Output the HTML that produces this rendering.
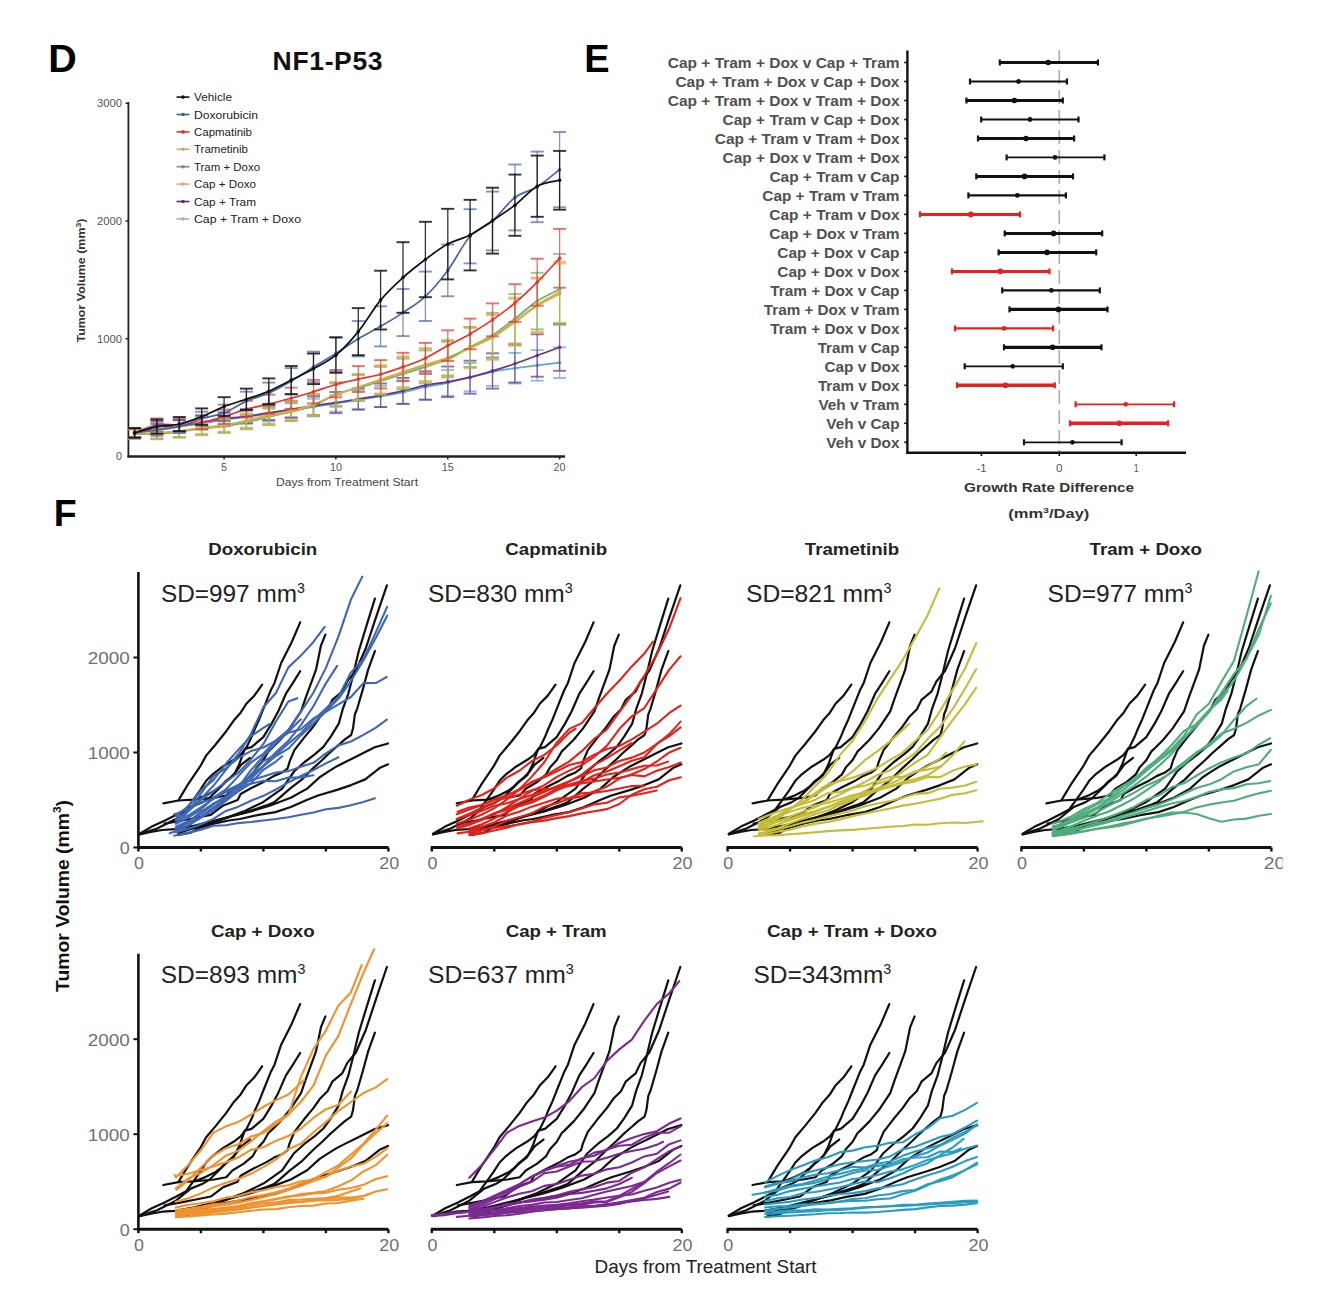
<!DOCTYPE html><html><head><meta charset="utf-8"><style>html,body{margin:0;padding:0;background:#fff;}svg{display:block;}text{font-family:"Liberation Sans", sans-serif;}</style></head><body>
<svg width="1322" height="1308" viewBox="0 0 1322 1308">
<rect width="1322" height="1308" fill="#fff"/>
<text x="48.3" y="72.4" font-size="39.5" font-weight="bold" fill="#000" text-anchor="start" >D</text>
<text x="272.6" y="69.6" font-size="26.5" font-weight="bold" fill="#111" textLength="110" lengthAdjust="spacing">NF1-P53</text>
<line x1="128.4" y1="102" x2="128.4" y2="457.5" stroke="#222" stroke-width="1.8" />
<line x1="127.5" y1="456.5" x2="565" y2="456.5" stroke="#222" stroke-width="2.4" />
<line x1="125.5" y1="338.7" x2="128.4" y2="338.7" stroke="#222" stroke-width="1.5" />
<line x1="125.5" y1="221" x2="128.4" y2="221" stroke="#222" stroke-width="1.5" />
<line x1="125.5" y1="103.3" x2="128.4" y2="103.3" stroke="#222" stroke-width="1.5" />
<line x1="224.1" y1="456.5" x2="224.1" y2="459.5" stroke="#222" stroke-width="1.5" />
<line x1="335.9" y1="456.5" x2="335.9" y2="459.5" stroke="#222" stroke-width="1.5" />
<line x1="447.8" y1="456.5" x2="447.8" y2="459.5" stroke="#222" stroke-width="1.5" />
<line x1="559.6" y1="456.5" x2="559.6" y2="459.5" stroke="#222" stroke-width="1.5" />
<text x="122" y="460.4" font-size="11" font-weight="normal" fill="#555" text-anchor="end" textLength="6" lengthAdjust="spacingAndGlyphs" >0</text>
<text x="122" y="342.7" font-size="11" font-weight="normal" fill="#555" text-anchor="end" textLength="25" lengthAdjust="spacingAndGlyphs" >1000</text>
<text x="122" y="225" font-size="11" font-weight="normal" fill="#555" text-anchor="end" textLength="25" lengthAdjust="spacingAndGlyphs" >2000</text>
<text x="122" y="107.3" font-size="11" font-weight="normal" fill="#555" text-anchor="end" textLength="25" lengthAdjust="spacingAndGlyphs" >3000</text>
<text x="224.1" y="470.5" font-size="11" font-weight="normal" fill="#555" text-anchor="middle" textLength="6" lengthAdjust="spacingAndGlyphs" >5</text>
<text x="335.9" y="470.5" font-size="11" font-weight="normal" fill="#555" text-anchor="middle" textLength="12" lengthAdjust="spacingAndGlyphs" >10</text>
<text x="447.8" y="470.5" font-size="11" font-weight="normal" fill="#555" text-anchor="middle" textLength="12" lengthAdjust="spacingAndGlyphs" >15</text>
<text x="559.6" y="470.5" font-size="11" font-weight="normal" fill="#555" text-anchor="middle" textLength="12" lengthAdjust="spacingAndGlyphs" >20</text>
<text x="347" y="486" font-size="11" font-weight="normal" fill="#444" text-anchor="middle" textLength="142" lengthAdjust="spacingAndGlyphs" >Days from Treatment Start</text>
<g transform="translate(84.5,280.5) rotate(-90)"><text x="0" y="0" font-size="10" font-weight="bold" fill="#333" text-anchor="middle" textLength="124" lengthAdjust="spacingAndGlyphs">Tumor Volume (mm<tspan font-size="7" dy="-4">3</tspan><tspan dy="4">)</tspan></text></g>
<line x1="134.6" y1="428.2" x2="134.6" y2="437.6" stroke="#5aa9cc" stroke-width="1.3" opacity="0.7"/>
<line x1="128.1" y1="428.2" x2="141.1" y2="428.2" stroke="#5aa9cc" stroke-width="1.9" opacity="0.7"/>
<line x1="128.1" y1="437.6" x2="141.1" y2="437.6" stroke="#5aa9cc" stroke-width="1.9" opacity="0.7"/>
<line x1="156.9" y1="422.9" x2="156.9" y2="433.4" stroke="#5aa9cc" stroke-width="1.3" opacity="0.7"/>
<line x1="150.4" y1="422.9" x2="163.4" y2="422.9" stroke="#5aa9cc" stroke-width="1.9" opacity="0.7"/>
<line x1="150.4" y1="433.4" x2="163.4" y2="433.4" stroke="#5aa9cc" stroke-width="1.9" opacity="0.7"/>
<line x1="179.3" y1="420.5" x2="179.3" y2="432.3" stroke="#5aa9cc" stroke-width="1.3" opacity="0.7"/>
<line x1="172.8" y1="420.5" x2="185.8" y2="420.5" stroke="#5aa9cc" stroke-width="1.9" opacity="0.7"/>
<line x1="172.8" y1="432.3" x2="185.8" y2="432.3" stroke="#5aa9cc" stroke-width="1.9" opacity="0.7"/>
<line x1="201.7" y1="417.6" x2="201.7" y2="429.3" stroke="#5aa9cc" stroke-width="1.3" opacity="0.7"/>
<line x1="195.2" y1="417.6" x2="208.2" y2="417.6" stroke="#5aa9cc" stroke-width="1.9" opacity="0.7"/>
<line x1="195.2" y1="429.3" x2="208.2" y2="429.3" stroke="#5aa9cc" stroke-width="1.9" opacity="0.7"/>
<line x1="224.1" y1="413.4" x2="224.1" y2="426.4" stroke="#5aa9cc" stroke-width="1.3" opacity="0.7"/>
<line x1="217.6" y1="413.4" x2="230.6" y2="413.4" stroke="#5aa9cc" stroke-width="1.9" opacity="0.7"/>
<line x1="217.6" y1="426.4" x2="230.6" y2="426.4" stroke="#5aa9cc" stroke-width="1.9" opacity="0.7"/>
<line x1="246.4" y1="410.5" x2="246.4" y2="423.4" stroke="#5aa9cc" stroke-width="1.3" opacity="0.7"/>
<line x1="239.9" y1="410.5" x2="252.9" y2="410.5" stroke="#5aa9cc" stroke-width="1.9" opacity="0.7"/>
<line x1="239.9" y1="423.4" x2="252.9" y2="423.4" stroke="#5aa9cc" stroke-width="1.9" opacity="0.7"/>
<line x1="268.8" y1="407" x2="268.8" y2="421.1" stroke="#5aa9cc" stroke-width="1.3" opacity="0.7"/>
<line x1="262.3" y1="407" x2="275.3" y2="407" stroke="#5aa9cc" stroke-width="1.9" opacity="0.7"/>
<line x1="262.3" y1="421.1" x2="275.3" y2="421.1" stroke="#5aa9cc" stroke-width="1.9" opacity="0.7"/>
<line x1="291.2" y1="403.4" x2="291.2" y2="417.6" stroke="#5aa9cc" stroke-width="1.3" opacity="0.7"/>
<line x1="284.7" y1="403.4" x2="297.7" y2="403.4" stroke="#5aa9cc" stroke-width="1.9" opacity="0.7"/>
<line x1="284.7" y1="417.6" x2="297.7" y2="417.6" stroke="#5aa9cc" stroke-width="1.9" opacity="0.7"/>
<line x1="313.5" y1="398.7" x2="313.5" y2="415.2" stroke="#5aa9cc" stroke-width="1.3" opacity="0.7"/>
<line x1="307" y1="398.7" x2="320" y2="398.7" stroke="#5aa9cc" stroke-width="1.9" opacity="0.7"/>
<line x1="307" y1="415.2" x2="320" y2="415.2" stroke="#5aa9cc" stroke-width="1.9" opacity="0.7"/>
<line x1="335.9" y1="395.2" x2="335.9" y2="411.7" stroke="#5aa9cc" stroke-width="1.3" opacity="0.7"/>
<line x1="329.4" y1="395.2" x2="342.4" y2="395.2" stroke="#5aa9cc" stroke-width="1.9" opacity="0.7"/>
<line x1="329.4" y1="411.7" x2="342.4" y2="411.7" stroke="#5aa9cc" stroke-width="1.9" opacity="0.7"/>
<line x1="358.3" y1="390.5" x2="358.3" y2="409.3" stroke="#5aa9cc" stroke-width="1.3" opacity="0.7"/>
<line x1="351.8" y1="390.5" x2="364.8" y2="390.5" stroke="#5aa9cc" stroke-width="1.9" opacity="0.7"/>
<line x1="351.8" y1="409.3" x2="364.8" y2="409.3" stroke="#5aa9cc" stroke-width="1.9" opacity="0.7"/>
<line x1="380.6" y1="385.8" x2="380.6" y2="407" stroke="#5aa9cc" stroke-width="1.3" opacity="0.7"/>
<line x1="374.1" y1="385.8" x2="387.1" y2="385.8" stroke="#5aa9cc" stroke-width="1.9" opacity="0.7"/>
<line x1="374.1" y1="407" x2="387.1" y2="407" stroke="#5aa9cc" stroke-width="1.9" opacity="0.7"/>
<line x1="403" y1="380.5" x2="403" y2="404" stroke="#5aa9cc" stroke-width="1.3" opacity="0.7"/>
<line x1="396.5" y1="380.5" x2="409.5" y2="380.5" stroke="#5aa9cc" stroke-width="1.9" opacity="0.7"/>
<line x1="396.5" y1="404" x2="409.5" y2="404" stroke="#5aa9cc" stroke-width="1.9" opacity="0.7"/>
<line x1="425.4" y1="374" x2="425.4" y2="399.9" stroke="#5aa9cc" stroke-width="1.3" opacity="0.7"/>
<line x1="418.9" y1="374" x2="431.9" y2="374" stroke="#5aa9cc" stroke-width="1.9" opacity="0.7"/>
<line x1="418.9" y1="399.9" x2="431.9" y2="399.9" stroke="#5aa9cc" stroke-width="1.9" opacity="0.7"/>
<line x1="447.8" y1="369.9" x2="447.8" y2="395.8" stroke="#5aa9cc" stroke-width="1.3" opacity="0.7"/>
<line x1="441.2" y1="369.9" x2="454.2" y2="369.9" stroke="#5aa9cc" stroke-width="1.9" opacity="0.7"/>
<line x1="441.2" y1="395.8" x2="454.2" y2="395.8" stroke="#5aa9cc" stroke-width="1.9" opacity="0.7"/>
<line x1="470.1" y1="363.1" x2="470.1" y2="391.3" stroke="#5aa9cc" stroke-width="1.3" opacity="0.7"/>
<line x1="463.6" y1="363.1" x2="476.6" y2="363.1" stroke="#5aa9cc" stroke-width="1.9" opacity="0.7"/>
<line x1="463.6" y1="391.3" x2="476.6" y2="391.3" stroke="#5aa9cc" stroke-width="1.9" opacity="0.7"/>
<line x1="492.5" y1="357.6" x2="492.5" y2="385.9" stroke="#5aa9cc" stroke-width="1.3" opacity="0.7"/>
<line x1="486" y1="357.6" x2="499" y2="357.6" stroke="#5aa9cc" stroke-width="1.9" opacity="0.7"/>
<line x1="486" y1="385.9" x2="499" y2="385.9" stroke="#5aa9cc" stroke-width="1.9" opacity="0.7"/>
<line x1="514.9" y1="352.9" x2="514.9" y2="383.5" stroke="#5aa9cc" stroke-width="1.3" opacity="0.7"/>
<line x1="508.4" y1="352.9" x2="521.4" y2="352.9" stroke="#5aa9cc" stroke-width="1.9" opacity="0.7"/>
<line x1="508.4" y1="383.5" x2="521.4" y2="383.5" stroke="#5aa9cc" stroke-width="1.9" opacity="0.7"/>
<line x1="537.2" y1="350.1" x2="537.2" y2="380.7" stroke="#5aa9cc" stroke-width="1.3" opacity="0.7"/>
<line x1="530.7" y1="350.1" x2="543.7" y2="350.1" stroke="#5aa9cc" stroke-width="1.9" opacity="0.7"/>
<line x1="530.7" y1="380.7" x2="543.7" y2="380.7" stroke="#5aa9cc" stroke-width="1.9" opacity="0.7"/>
<line x1="559.6" y1="347.4" x2="559.6" y2="378" stroke="#5aa9cc" stroke-width="1.3" opacity="0.7"/>
<line x1="553.1" y1="347.4" x2="566.1" y2="347.4" stroke="#5aa9cc" stroke-width="1.9" opacity="0.7"/>
<line x1="553.1" y1="378" x2="566.1" y2="378" stroke="#5aa9cc" stroke-width="1.9" opacity="0.7"/>
<path d="M134.6,432.9 C138.3,432.1 149.5,429.2 156.9,428.2 C164.4,427.1 171.9,427.2 179.3,426.4 C186.8,425.6 194.2,424.5 201.7,423.4 C209.1,422.4 216.6,421 224.1,419.9 C231.5,418.8 239,418 246.4,417 C253.9,416 261.3,415.1 268.8,414 C276.2,412.9 283.7,411.7 291.2,410.5 C298.6,409.3 306.1,408.1 313.5,407 C321,405.8 328.4,404.6 335.9,403.4 C343.4,402.3 350.8,401.1 358.3,399.9 C365.7,398.7 373.2,397.6 380.6,396.4 C388.1,395.1 395.6,393.8 403,392.3 C410.5,390.7 417.9,388.5 425.4,387 C432.8,385.4 440.3,384.5 447.8,382.8 C455.2,381.2 462.7,379 470.1,377.2 C477.6,375.3 485,373.3 492.5,371.8 C499.9,370.3 507.4,369.3 514.9,368.2 C522.3,367.2 529.8,366.3 537.2,365.4 C544.7,364.5 555.9,363.2 559.6,362.7" fill="none" stroke="#5aa9cc" stroke-width="1.7" stroke-linejoin="round" stroke-linecap="round" />
<circle cx="134.6" cy="432.9" r="1.8" fill="#5aa9cc"/>
<circle cx="156.9" cy="428.2" r="1.8" fill="#5aa9cc"/>
<circle cx="179.3" cy="426.4" r="1.8" fill="#5aa9cc"/>
<circle cx="201.7" cy="423.4" r="1.8" fill="#5aa9cc"/>
<circle cx="224.1" cy="419.9" r="1.8" fill="#5aa9cc"/>
<circle cx="246.4" cy="417" r="1.8" fill="#5aa9cc"/>
<circle cx="268.8" cy="414" r="1.8" fill="#5aa9cc"/>
<circle cx="291.2" cy="410.5" r="1.8" fill="#5aa9cc"/>
<circle cx="313.5" cy="407" r="1.8" fill="#5aa9cc"/>
<circle cx="335.9" cy="403.4" r="1.8" fill="#5aa9cc"/>
<circle cx="358.3" cy="399.9" r="1.8" fill="#5aa9cc"/>
<circle cx="380.6" cy="396.4" r="1.8" fill="#5aa9cc"/>
<circle cx="403" cy="392.3" r="1.8" fill="#5aa9cc"/>
<circle cx="425.4" cy="387" r="1.8" fill="#5aa9cc"/>
<circle cx="447.8" cy="382.8" r="1.8" fill="#5aa9cc"/>
<circle cx="470.1" cy="377.2" r="1.8" fill="#5aa9cc"/>
<circle cx="492.5" cy="371.8" r="1.8" fill="#5aa9cc"/>
<circle cx="514.9" cy="368.2" r="1.8" fill="#5aa9cc"/>
<circle cx="537.2" cy="365.4" r="1.8" fill="#5aa9cc"/>
<circle cx="559.6" cy="362.7" r="1.8" fill="#5aa9cc"/>
<line x1="134.6" y1="428.2" x2="134.6" y2="437.6" stroke="#6d2f8e" stroke-width="1.3" opacity="0.7"/>
<line x1="128.1" y1="428.2" x2="141.1" y2="428.2" stroke="#6d2f8e" stroke-width="1.9" opacity="0.7"/>
<line x1="128.1" y1="437.6" x2="141.1" y2="437.6" stroke="#6d2f8e" stroke-width="1.9" opacity="0.7"/>
<line x1="156.9" y1="421.1" x2="156.9" y2="432.9" stroke="#6d2f8e" stroke-width="1.3" opacity="0.7"/>
<line x1="150.4" y1="421.1" x2="163.4" y2="421.1" stroke="#6d2f8e" stroke-width="1.9" opacity="0.7"/>
<line x1="150.4" y1="432.9" x2="163.4" y2="432.9" stroke="#6d2f8e" stroke-width="1.9" opacity="0.7"/>
<line x1="179.3" y1="419.9" x2="179.3" y2="431.7" stroke="#6d2f8e" stroke-width="1.3" opacity="0.7"/>
<line x1="172.8" y1="419.9" x2="185.8" y2="419.9" stroke="#6d2f8e" stroke-width="1.9" opacity="0.7"/>
<line x1="172.8" y1="431.7" x2="185.8" y2="431.7" stroke="#6d2f8e" stroke-width="1.9" opacity="0.7"/>
<line x1="201.7" y1="415.8" x2="201.7" y2="428.7" stroke="#6d2f8e" stroke-width="1.3" opacity="0.7"/>
<line x1="195.2" y1="415.8" x2="208.2" y2="415.8" stroke="#6d2f8e" stroke-width="1.9" opacity="0.7"/>
<line x1="195.2" y1="428.7" x2="208.2" y2="428.7" stroke="#6d2f8e" stroke-width="1.9" opacity="0.7"/>
<line x1="224.1" y1="412.3" x2="224.1" y2="425.2" stroke="#6d2f8e" stroke-width="1.3" opacity="0.7"/>
<line x1="217.6" y1="412.3" x2="230.6" y2="412.3" stroke="#6d2f8e" stroke-width="1.9" opacity="0.7"/>
<line x1="217.6" y1="425.2" x2="230.6" y2="425.2" stroke="#6d2f8e" stroke-width="1.9" opacity="0.7"/>
<line x1="246.4" y1="409.3" x2="246.4" y2="423.4" stroke="#6d2f8e" stroke-width="1.3" opacity="0.7"/>
<line x1="239.9" y1="409.3" x2="252.9" y2="409.3" stroke="#6d2f8e" stroke-width="1.9" opacity="0.7"/>
<line x1="239.9" y1="423.4" x2="252.9" y2="423.4" stroke="#6d2f8e" stroke-width="1.9" opacity="0.7"/>
<line x1="268.8" y1="405.8" x2="268.8" y2="419.9" stroke="#6d2f8e" stroke-width="1.3" opacity="0.7"/>
<line x1="262.3" y1="405.8" x2="275.3" y2="405.8" stroke="#6d2f8e" stroke-width="1.9" opacity="0.7"/>
<line x1="262.3" y1="419.9" x2="275.3" y2="419.9" stroke="#6d2f8e" stroke-width="1.9" opacity="0.7"/>
<line x1="291.2" y1="401.1" x2="291.2" y2="417.6" stroke="#6d2f8e" stroke-width="1.3" opacity="0.7"/>
<line x1="284.7" y1="401.1" x2="297.7" y2="401.1" stroke="#6d2f8e" stroke-width="1.9" opacity="0.7"/>
<line x1="284.7" y1="417.6" x2="297.7" y2="417.6" stroke="#6d2f8e" stroke-width="1.9" opacity="0.7"/>
<line x1="313.5" y1="396.4" x2="313.5" y2="415.2" stroke="#6d2f8e" stroke-width="1.3" opacity="0.7"/>
<line x1="307" y1="396.4" x2="320" y2="396.4" stroke="#6d2f8e" stroke-width="1.9" opacity="0.7"/>
<line x1="307" y1="415.2" x2="320" y2="415.2" stroke="#6d2f8e" stroke-width="1.9" opacity="0.7"/>
<line x1="335.9" y1="392" x2="335.9" y2="413.2" stroke="#6d2f8e" stroke-width="1.3" opacity="0.7"/>
<line x1="329.4" y1="392" x2="342.4" y2="392" stroke="#6d2f8e" stroke-width="1.9" opacity="0.7"/>
<line x1="329.4" y1="413.2" x2="342.4" y2="413.2" stroke="#6d2f8e" stroke-width="1.9" opacity="0.7"/>
<line x1="358.3" y1="388.4" x2="358.3" y2="409.6" stroke="#6d2f8e" stroke-width="1.3" opacity="0.7"/>
<line x1="351.8" y1="388.4" x2="364.8" y2="388.4" stroke="#6d2f8e" stroke-width="1.9" opacity="0.7"/>
<line x1="351.8" y1="409.6" x2="364.8" y2="409.6" stroke="#6d2f8e" stroke-width="1.9" opacity="0.7"/>
<line x1="380.6" y1="383.5" x2="380.6" y2="407.1" stroke="#6d2f8e" stroke-width="1.3" opacity="0.7"/>
<line x1="374.1" y1="383.5" x2="387.1" y2="383.5" stroke="#6d2f8e" stroke-width="1.9" opacity="0.7"/>
<line x1="374.1" y1="407.1" x2="387.1" y2="407.1" stroke="#6d2f8e" stroke-width="1.9" opacity="0.7"/>
<line x1="403" y1="377.9" x2="403" y2="403.8" stroke="#6d2f8e" stroke-width="1.3" opacity="0.7"/>
<line x1="396.5" y1="377.9" x2="409.5" y2="377.9" stroke="#6d2f8e" stroke-width="1.9" opacity="0.7"/>
<line x1="396.5" y1="403.8" x2="409.5" y2="403.8" stroke="#6d2f8e" stroke-width="1.9" opacity="0.7"/>
<line x1="425.4" y1="371.3" x2="425.4" y2="399.6" stroke="#6d2f8e" stroke-width="1.3" opacity="0.7"/>
<line x1="418.9" y1="371.3" x2="431.9" y2="371.3" stroke="#6d2f8e" stroke-width="1.9" opacity="0.7"/>
<line x1="418.9" y1="399.6" x2="431.9" y2="399.6" stroke="#6d2f8e" stroke-width="1.9" opacity="0.7"/>
<line x1="447.8" y1="366.5" x2="447.8" y2="397.1" stroke="#6d2f8e" stroke-width="1.3" opacity="0.7"/>
<line x1="441.2" y1="366.5" x2="454.2" y2="366.5" stroke="#6d2f8e" stroke-width="1.9" opacity="0.7"/>
<line x1="441.2" y1="397.1" x2="454.2" y2="397.1" stroke="#6d2f8e" stroke-width="1.9" opacity="0.7"/>
<line x1="470.1" y1="360.7" x2="470.1" y2="393.7" stroke="#6d2f8e" stroke-width="1.3" opacity="0.7"/>
<line x1="463.6" y1="360.7" x2="476.6" y2="360.7" stroke="#6d2f8e" stroke-width="1.9" opacity="0.7"/>
<line x1="463.6" y1="393.7" x2="476.6" y2="393.7" stroke="#6d2f8e" stroke-width="1.9" opacity="0.7"/>
<line x1="492.5" y1="353.3" x2="492.5" y2="388.6" stroke="#6d2f8e" stroke-width="1.3" opacity="0.7"/>
<line x1="486" y1="353.3" x2="499" y2="353.3" stroke="#6d2f8e" stroke-width="1.9" opacity="0.7"/>
<line x1="486" y1="388.6" x2="499" y2="388.6" stroke="#6d2f8e" stroke-width="1.9" opacity="0.7"/>
<line x1="514.9" y1="344.8" x2="514.9" y2="382.5" stroke="#6d2f8e" stroke-width="1.3" opacity="0.7"/>
<line x1="508.4" y1="344.8" x2="521.4" y2="344.8" stroke="#6d2f8e" stroke-width="1.9" opacity="0.7"/>
<line x1="508.4" y1="382.5" x2="521.4" y2="382.5" stroke="#6d2f8e" stroke-width="1.9" opacity="0.7"/>
<line x1="537.2" y1="334.3" x2="537.2" y2="376.7" stroke="#6d2f8e" stroke-width="1.3" opacity="0.7"/>
<line x1="530.7" y1="334.3" x2="543.7" y2="334.3" stroke="#6d2f8e" stroke-width="1.9" opacity="0.7"/>
<line x1="530.7" y1="376.7" x2="543.7" y2="376.7" stroke="#6d2f8e" stroke-width="1.9" opacity="0.7"/>
<line x1="559.6" y1="323.8" x2="559.6" y2="370.8" stroke="#6d2f8e" stroke-width="1.3" opacity="0.7"/>
<line x1="553.1" y1="323.8" x2="566.1" y2="323.8" stroke="#6d2f8e" stroke-width="1.9" opacity="0.7"/>
<line x1="553.1" y1="370.8" x2="566.1" y2="370.8" stroke="#6d2f8e" stroke-width="1.9" opacity="0.7"/>
<path d="M134.6,432.9 C138.3,431.9 149.5,428.2 156.9,427 C164.4,425.8 171.9,426.6 179.3,425.8 C186.8,425 194.2,423.4 201.7,422.3 C209.1,421.1 216.6,419.7 224.1,418.7 C231.5,417.8 239,417.4 246.4,416.4 C253.9,415.4 261.3,414 268.8,412.9 C276.2,411.7 283.7,410.5 291.2,409.3 C298.6,408.1 306.1,406.9 313.5,405.8 C321,404.7 328.4,403.7 335.9,402.6 C343.4,401.5 350.8,400.2 358.3,399 C365.7,397.7 373.2,396.7 380.6,395.3 C388.1,394 395.6,392.5 403,390.8 C410.5,389.2 417.9,386.9 425.4,385.4 C432.8,383.9 440.3,383.2 447.8,381.8 C455.2,380.4 462.7,379 470.1,377.2 C477.6,375.4 485,373.2 492.5,370.9 C499.9,368.7 507.4,366.2 514.9,363.7 C522.3,361.1 529.8,358.3 537.2,355.5 C544.7,352.8 555.9,348.7 559.6,347.3" fill="none" stroke="#6d2f8e" stroke-width="1.7" stroke-linejoin="round" stroke-linecap="round" />
<circle cx="134.6" cy="432.9" r="1.8" fill="#6d2f8e"/>
<circle cx="156.9" cy="427" r="1.8" fill="#6d2f8e"/>
<circle cx="179.3" cy="425.8" r="1.8" fill="#6d2f8e"/>
<circle cx="201.7" cy="422.3" r="1.8" fill="#6d2f8e"/>
<circle cx="224.1" cy="418.7" r="1.8" fill="#6d2f8e"/>
<circle cx="246.4" cy="416.4" r="1.8" fill="#6d2f8e"/>
<circle cx="268.8" cy="412.9" r="1.8" fill="#6d2f8e"/>
<circle cx="291.2" cy="409.3" r="1.8" fill="#6d2f8e"/>
<circle cx="313.5" cy="405.8" r="1.8" fill="#6d2f8e"/>
<circle cx="335.9" cy="402.6" r="1.8" fill="#6d2f8e"/>
<circle cx="358.3" cy="399" r="1.8" fill="#6d2f8e"/>
<circle cx="380.6" cy="395.3" r="1.8" fill="#6d2f8e"/>
<circle cx="403" cy="390.8" r="1.8" fill="#6d2f8e"/>
<circle cx="425.4" cy="385.4" r="1.8" fill="#6d2f8e"/>
<circle cx="447.8" cy="381.8" r="1.8" fill="#6d2f8e"/>
<circle cx="470.1" cy="377.2" r="1.8" fill="#6d2f8e"/>
<circle cx="492.5" cy="370.9" r="1.8" fill="#6d2f8e"/>
<circle cx="514.9" cy="363.7" r="1.8" fill="#6d2f8e"/>
<circle cx="537.2" cy="355.5" r="1.8" fill="#6d2f8e"/>
<circle cx="559.6" cy="347.3" r="1.8" fill="#6d2f8e"/>
<line x1="134.6" y1="429.3" x2="134.6" y2="438.7" stroke="#f0a050" stroke-width="1.3" opacity="0.7"/>
<line x1="128.1" y1="429.3" x2="141.1" y2="429.3" stroke="#f0a050" stroke-width="1.9" opacity="0.7"/>
<line x1="128.1" y1="438.7" x2="141.1" y2="438.7" stroke="#f0a050" stroke-width="1.9" opacity="0.7"/>
<line x1="156.9" y1="427.6" x2="156.9" y2="438.2" stroke="#f0a050" stroke-width="1.3" opacity="0.7"/>
<line x1="150.4" y1="427.6" x2="163.4" y2="427.6" stroke="#f0a050" stroke-width="1.9" opacity="0.7"/>
<line x1="150.4" y1="438.2" x2="163.4" y2="438.2" stroke="#f0a050" stroke-width="1.9" opacity="0.7"/>
<line x1="179.3" y1="425.2" x2="179.3" y2="437" stroke="#f0a050" stroke-width="1.3" opacity="0.7"/>
<line x1="172.8" y1="425.2" x2="185.8" y2="425.2" stroke="#f0a050" stroke-width="1.9" opacity="0.7"/>
<line x1="172.8" y1="437" x2="185.8" y2="437" stroke="#f0a050" stroke-width="1.9" opacity="0.7"/>
<line x1="201.7" y1="421.1" x2="201.7" y2="434" stroke="#f0a050" stroke-width="1.3" opacity="0.7"/>
<line x1="195.2" y1="421.1" x2="208.2" y2="421.1" stroke="#f0a050" stroke-width="1.9" opacity="0.7"/>
<line x1="195.2" y1="434" x2="208.2" y2="434" stroke="#f0a050" stroke-width="1.9" opacity="0.7"/>
<line x1="224.1" y1="418.7" x2="224.1" y2="431.7" stroke="#f0a050" stroke-width="1.3" opacity="0.7"/>
<line x1="217.6" y1="418.7" x2="230.6" y2="418.7" stroke="#f0a050" stroke-width="1.9" opacity="0.7"/>
<line x1="217.6" y1="431.7" x2="230.6" y2="431.7" stroke="#f0a050" stroke-width="1.9" opacity="0.7"/>
<line x1="246.4" y1="413.4" x2="246.4" y2="427.6" stroke="#f0a050" stroke-width="1.3" opacity="0.7"/>
<line x1="239.9" y1="413.4" x2="252.9" y2="413.4" stroke="#f0a050" stroke-width="1.9" opacity="0.7"/>
<line x1="239.9" y1="427.6" x2="252.9" y2="427.6" stroke="#f0a050" stroke-width="1.9" opacity="0.7"/>
<line x1="268.8" y1="407" x2="268.8" y2="423.4" stroke="#f0a050" stroke-width="1.3" opacity="0.7"/>
<line x1="262.3" y1="407" x2="275.3" y2="407" stroke="#f0a050" stroke-width="1.9" opacity="0.7"/>
<line x1="262.3" y1="423.4" x2="275.3" y2="423.4" stroke="#f0a050" stroke-width="1.9" opacity="0.7"/>
<line x1="291.2" y1="401.1" x2="291.2" y2="419.9" stroke="#f0a050" stroke-width="1.3" opacity="0.7"/>
<line x1="284.7" y1="401.1" x2="297.7" y2="401.1" stroke="#f0a050" stroke-width="1.9" opacity="0.7"/>
<line x1="284.7" y1="419.9" x2="297.7" y2="419.9" stroke="#f0a050" stroke-width="1.9" opacity="0.7"/>
<line x1="313.5" y1="394" x2="313.5" y2="415.2" stroke="#f0a050" stroke-width="1.3" opacity="0.7"/>
<line x1="307" y1="394" x2="320" y2="394" stroke="#f0a050" stroke-width="1.9" opacity="0.7"/>
<line x1="307" y1="415.2" x2="320" y2="415.2" stroke="#f0a050" stroke-width="1.9" opacity="0.7"/>
<line x1="335.9" y1="383.4" x2="335.9" y2="407" stroke="#f0a050" stroke-width="1.3" opacity="0.7"/>
<line x1="329.4" y1="383.4" x2="342.4" y2="383.4" stroke="#f0a050" stroke-width="1.9" opacity="0.7"/>
<line x1="329.4" y1="407" x2="342.4" y2="407" stroke="#f0a050" stroke-width="1.9" opacity="0.7"/>
<line x1="358.3" y1="374" x2="358.3" y2="399.9" stroke="#f0a050" stroke-width="1.3" opacity="0.7"/>
<line x1="351.8" y1="374" x2="364.8" y2="374" stroke="#f0a050" stroke-width="1.9" opacity="0.7"/>
<line x1="351.8" y1="399.9" x2="364.8" y2="399.9" stroke="#f0a050" stroke-width="1.9" opacity="0.7"/>
<line x1="380.6" y1="365.2" x2="380.6" y2="393.4" stroke="#f0a050" stroke-width="1.3" opacity="0.7"/>
<line x1="374.1" y1="365.2" x2="387.1" y2="365.2" stroke="#f0a050" stroke-width="1.9" opacity="0.7"/>
<line x1="374.1" y1="393.4" x2="387.1" y2="393.4" stroke="#f0a050" stroke-width="1.9" opacity="0.7"/>
<line x1="403" y1="356.4" x2="403" y2="387" stroke="#f0a050" stroke-width="1.3" opacity="0.7"/>
<line x1="396.5" y1="356.4" x2="409.5" y2="356.4" stroke="#f0a050" stroke-width="1.9" opacity="0.7"/>
<line x1="396.5" y1="387" x2="409.5" y2="387" stroke="#f0a050" stroke-width="1.9" opacity="0.7"/>
<line x1="425.4" y1="348.1" x2="425.4" y2="381.1" stroke="#f0a050" stroke-width="1.3" opacity="0.7"/>
<line x1="418.9" y1="348.1" x2="431.9" y2="348.1" stroke="#f0a050" stroke-width="1.9" opacity="0.7"/>
<line x1="418.9" y1="381.1" x2="431.9" y2="381.1" stroke="#f0a050" stroke-width="1.9" opacity="0.7"/>
<line x1="447.8" y1="339.9" x2="447.8" y2="375.2" stroke="#f0a050" stroke-width="1.3" opacity="0.7"/>
<line x1="441.2" y1="339.9" x2="454.2" y2="339.9" stroke="#f0a050" stroke-width="1.9" opacity="0.7"/>
<line x1="441.2" y1="375.2" x2="454.2" y2="375.2" stroke="#f0a050" stroke-width="1.9" opacity="0.7"/>
<line x1="470.1" y1="328.1" x2="470.1" y2="368.1" stroke="#f0a050" stroke-width="1.3" opacity="0.7"/>
<line x1="463.6" y1="328.1" x2="476.6" y2="328.1" stroke="#f0a050" stroke-width="1.9" opacity="0.7"/>
<line x1="463.6" y1="368.1" x2="476.6" y2="368.1" stroke="#f0a050" stroke-width="1.9" opacity="0.7"/>
<line x1="492.5" y1="315.2" x2="492.5" y2="359.9" stroke="#f0a050" stroke-width="1.3" opacity="0.7"/>
<line x1="486" y1="315.2" x2="499" y2="315.2" stroke="#f0a050" stroke-width="1.9" opacity="0.7"/>
<line x1="486" y1="359.9" x2="499" y2="359.9" stroke="#f0a050" stroke-width="1.9" opacity="0.7"/>
<line x1="514.9" y1="298.7" x2="514.9" y2="345.8" stroke="#f0a050" stroke-width="1.3" opacity="0.7"/>
<line x1="508.4" y1="298.7" x2="521.4" y2="298.7" stroke="#f0a050" stroke-width="1.9" opacity="0.7"/>
<line x1="508.4" y1="345.8" x2="521.4" y2="345.8" stroke="#f0a050" stroke-width="1.9" opacity="0.7"/>
<line x1="537.2" y1="278.7" x2="537.2" y2="332.8" stroke="#f0a050" stroke-width="1.3" opacity="0.7"/>
<line x1="530.7" y1="278.7" x2="543.7" y2="278.7" stroke="#f0a050" stroke-width="1.9" opacity="0.7"/>
<line x1="530.7" y1="332.8" x2="543.7" y2="332.8" stroke="#f0a050" stroke-width="1.9" opacity="0.7"/>
<line x1="559.6" y1="263.4" x2="559.6" y2="324.6" stroke="#f0a050" stroke-width="1.3" opacity="0.7"/>
<line x1="553.1" y1="263.4" x2="566.1" y2="263.4" stroke="#f0a050" stroke-width="1.9" opacity="0.7"/>
<line x1="553.1" y1="324.6" x2="566.1" y2="324.6" stroke="#f0a050" stroke-width="1.9" opacity="0.7"/>
<path d="M134.6,434 C138.3,433.8 149.5,433.4 156.9,432.9 C164.4,432.4 171.9,432 179.3,431.1 C186.8,430.2 194.2,428.5 201.7,427.6 C209.1,426.6 216.6,426.4 224.1,425.2 C231.5,424 239,422.2 246.4,420.5 C253.9,418.8 261.3,416.9 268.8,415.2 C276.2,413.5 283.7,412.3 291.2,410.5 C298.6,408.7 306.1,407.2 313.5,404.6 C321,402.1 328.4,398.1 335.9,395.2 C343.4,392.3 350.8,389.6 358.3,387 C365.7,384.3 373.2,381.9 380.6,379.3 C388.1,376.8 395.6,374.1 403,371.7 C410.5,369.2 417.9,366.9 425.4,364.6 C432.8,362.2 440.3,360.3 447.8,357.5 C455.2,354.8 462.7,351.5 470.1,348.1 C477.6,344.8 485,341.8 492.5,337.5 C499.9,333.2 507.4,327.5 514.9,322.2 C522.3,316.9 529.8,310.5 537.2,305.7 C544.7,301 555.9,295.9 559.6,294" fill="none" stroke="#f0a050" stroke-width="1.7" stroke-linejoin="round" stroke-linecap="round" />
<circle cx="134.6" cy="434" r="1.8" fill="#f0a050"/>
<circle cx="156.9" cy="432.9" r="1.8" fill="#f0a050"/>
<circle cx="179.3" cy="431.1" r="1.8" fill="#f0a050"/>
<circle cx="201.7" cy="427.6" r="1.8" fill="#f0a050"/>
<circle cx="224.1" cy="425.2" r="1.8" fill="#f0a050"/>
<circle cx="246.4" cy="420.5" r="1.8" fill="#f0a050"/>
<circle cx="268.8" cy="415.2" r="1.8" fill="#f0a050"/>
<circle cx="291.2" cy="410.5" r="1.8" fill="#f0a050"/>
<circle cx="313.5" cy="404.6" r="1.8" fill="#f0a050"/>
<circle cx="335.9" cy="395.2" r="1.8" fill="#f0a050"/>
<circle cx="358.3" cy="387" r="1.8" fill="#f0a050"/>
<circle cx="380.6" cy="379.3" r="1.8" fill="#f0a050"/>
<circle cx="403" cy="371.7" r="1.8" fill="#f0a050"/>
<circle cx="425.4" cy="364.6" r="1.8" fill="#f0a050"/>
<circle cx="447.8" cy="357.5" r="1.8" fill="#f0a050"/>
<circle cx="470.1" cy="348.1" r="1.8" fill="#f0a050"/>
<circle cx="492.5" cy="337.5" r="1.8" fill="#f0a050"/>
<circle cx="514.9" cy="322.2" r="1.8" fill="#f0a050"/>
<circle cx="537.2" cy="305.7" r="1.8" fill="#f0a050"/>
<circle cx="559.6" cy="294" r="1.8" fill="#f0a050"/>
<line x1="134.6" y1="429.3" x2="134.6" y2="438.7" stroke="#63b07a" stroke-width="1.3" opacity="0.7"/>
<line x1="128.1" y1="429.3" x2="141.1" y2="429.3" stroke="#63b07a" stroke-width="1.9" opacity="0.7"/>
<line x1="128.1" y1="438.7" x2="141.1" y2="438.7" stroke="#63b07a" stroke-width="1.9" opacity="0.7"/>
<line x1="156.9" y1="428.7" x2="156.9" y2="439.3" stroke="#63b07a" stroke-width="1.3" opacity="0.7"/>
<line x1="150.4" y1="428.7" x2="163.4" y2="428.7" stroke="#63b07a" stroke-width="1.9" opacity="0.7"/>
<line x1="150.4" y1="439.3" x2="163.4" y2="439.3" stroke="#63b07a" stroke-width="1.9" opacity="0.7"/>
<line x1="179.3" y1="425.8" x2="179.3" y2="437.6" stroke="#63b07a" stroke-width="1.3" opacity="0.7"/>
<line x1="172.8" y1="425.8" x2="185.8" y2="425.8" stroke="#63b07a" stroke-width="1.9" opacity="0.7"/>
<line x1="172.8" y1="437.6" x2="185.8" y2="437.6" stroke="#63b07a" stroke-width="1.9" opacity="0.7"/>
<line x1="201.7" y1="422.3" x2="201.7" y2="435.2" stroke="#63b07a" stroke-width="1.3" opacity="0.7"/>
<line x1="195.2" y1="422.3" x2="208.2" y2="422.3" stroke="#63b07a" stroke-width="1.9" opacity="0.7"/>
<line x1="195.2" y1="435.2" x2="208.2" y2="435.2" stroke="#63b07a" stroke-width="1.9" opacity="0.7"/>
<line x1="224.1" y1="419.9" x2="224.1" y2="432.9" stroke="#63b07a" stroke-width="1.3" opacity="0.7"/>
<line x1="217.6" y1="419.9" x2="230.6" y2="419.9" stroke="#63b07a" stroke-width="1.9" opacity="0.7"/>
<line x1="217.6" y1="432.9" x2="230.6" y2="432.9" stroke="#63b07a" stroke-width="1.9" opacity="0.7"/>
<line x1="246.4" y1="415.2" x2="246.4" y2="429.3" stroke="#63b07a" stroke-width="1.3" opacity="0.7"/>
<line x1="239.9" y1="415.2" x2="252.9" y2="415.2" stroke="#63b07a" stroke-width="1.9" opacity="0.7"/>
<line x1="239.9" y1="429.3" x2="252.9" y2="429.3" stroke="#63b07a" stroke-width="1.9" opacity="0.7"/>
<line x1="268.8" y1="408.7" x2="268.8" y2="425.2" stroke="#63b07a" stroke-width="1.3" opacity="0.7"/>
<line x1="262.3" y1="408.7" x2="275.3" y2="408.7" stroke="#63b07a" stroke-width="1.9" opacity="0.7"/>
<line x1="262.3" y1="425.2" x2="275.3" y2="425.2" stroke="#63b07a" stroke-width="1.9" opacity="0.7"/>
<line x1="291.2" y1="402.3" x2="291.2" y2="421.1" stroke="#63b07a" stroke-width="1.3" opacity="0.7"/>
<line x1="284.7" y1="402.3" x2="297.7" y2="402.3" stroke="#63b07a" stroke-width="1.9" opacity="0.7"/>
<line x1="284.7" y1="421.1" x2="297.7" y2="421.1" stroke="#63b07a" stroke-width="1.9" opacity="0.7"/>
<line x1="313.5" y1="395.2" x2="313.5" y2="416.4" stroke="#63b07a" stroke-width="1.3" opacity="0.7"/>
<line x1="307" y1="395.2" x2="320" y2="395.2" stroke="#63b07a" stroke-width="1.9" opacity="0.7"/>
<line x1="307" y1="416.4" x2="320" y2="416.4" stroke="#63b07a" stroke-width="1.9" opacity="0.7"/>
<line x1="335.9" y1="382.2" x2="335.9" y2="405.8" stroke="#63b07a" stroke-width="1.3" opacity="0.7"/>
<line x1="329.4" y1="382.2" x2="342.4" y2="382.2" stroke="#63b07a" stroke-width="1.9" opacity="0.7"/>
<line x1="329.4" y1="405.8" x2="342.4" y2="405.8" stroke="#63b07a" stroke-width="1.9" opacity="0.7"/>
<line x1="358.3" y1="375.2" x2="358.3" y2="401.1" stroke="#63b07a" stroke-width="1.3" opacity="0.7"/>
<line x1="351.8" y1="375.2" x2="364.8" y2="375.2" stroke="#63b07a" stroke-width="1.9" opacity="0.7"/>
<line x1="351.8" y1="401.1" x2="364.8" y2="401.1" stroke="#63b07a" stroke-width="1.9" opacity="0.7"/>
<line x1="380.6" y1="366.9" x2="380.6" y2="395.2" stroke="#63b07a" stroke-width="1.3" opacity="0.7"/>
<line x1="374.1" y1="366.9" x2="387.1" y2="366.9" stroke="#63b07a" stroke-width="1.9" opacity="0.7"/>
<line x1="374.1" y1="395.2" x2="387.1" y2="395.2" stroke="#63b07a" stroke-width="1.9" opacity="0.7"/>
<line x1="403" y1="358.7" x2="403" y2="389.3" stroke="#63b07a" stroke-width="1.3" opacity="0.7"/>
<line x1="396.5" y1="358.7" x2="409.5" y2="358.7" stroke="#63b07a" stroke-width="1.9" opacity="0.7"/>
<line x1="396.5" y1="389.3" x2="409.5" y2="389.3" stroke="#63b07a" stroke-width="1.9" opacity="0.7"/>
<line x1="425.4" y1="350.5" x2="425.4" y2="383.4" stroke="#63b07a" stroke-width="1.3" opacity="0.7"/>
<line x1="418.9" y1="350.5" x2="431.9" y2="350.5" stroke="#63b07a" stroke-width="1.9" opacity="0.7"/>
<line x1="418.9" y1="383.4" x2="431.9" y2="383.4" stroke="#63b07a" stroke-width="1.9" opacity="0.7"/>
<line x1="447.8" y1="341.1" x2="447.8" y2="376.4" stroke="#63b07a" stroke-width="1.3" opacity="0.7"/>
<line x1="441.2" y1="341.1" x2="454.2" y2="341.1" stroke="#63b07a" stroke-width="1.9" opacity="0.7"/>
<line x1="441.2" y1="376.4" x2="454.2" y2="376.4" stroke="#63b07a" stroke-width="1.9" opacity="0.7"/>
<line x1="470.1" y1="326.9" x2="470.1" y2="366.9" stroke="#63b07a" stroke-width="1.3" opacity="0.7"/>
<line x1="463.6" y1="326.9" x2="476.6" y2="326.9" stroke="#63b07a" stroke-width="1.9" opacity="0.7"/>
<line x1="463.6" y1="366.9" x2="476.6" y2="366.9" stroke="#63b07a" stroke-width="1.9" opacity="0.7"/>
<line x1="492.5" y1="312.8" x2="492.5" y2="357.5" stroke="#63b07a" stroke-width="1.3" opacity="0.7"/>
<line x1="486" y1="312.8" x2="499" y2="312.8" stroke="#63b07a" stroke-width="1.9" opacity="0.7"/>
<line x1="486" y1="357.5" x2="499" y2="357.5" stroke="#63b07a" stroke-width="1.9" opacity="0.7"/>
<line x1="514.9" y1="294" x2="514.9" y2="343.4" stroke="#63b07a" stroke-width="1.3" opacity="0.7"/>
<line x1="508.4" y1="294" x2="521.4" y2="294" stroke="#63b07a" stroke-width="1.9" opacity="0.7"/>
<line x1="508.4" y1="343.4" x2="521.4" y2="343.4" stroke="#63b07a" stroke-width="1.9" opacity="0.7"/>
<line x1="537.2" y1="272.8" x2="537.2" y2="329.3" stroke="#63b07a" stroke-width="1.3" opacity="0.7"/>
<line x1="530.7" y1="272.8" x2="543.7" y2="272.8" stroke="#63b07a" stroke-width="1.9" opacity="0.7"/>
<line x1="530.7" y1="329.3" x2="543.7" y2="329.3" stroke="#63b07a" stroke-width="1.9" opacity="0.7"/>
<line x1="559.6" y1="254" x2="559.6" y2="324.6" stroke="#63b07a" stroke-width="1.3" opacity="0.7"/>
<line x1="553.1" y1="254" x2="566.1" y2="254" stroke="#63b07a" stroke-width="1.9" opacity="0.7"/>
<line x1="553.1" y1="324.6" x2="566.1" y2="324.6" stroke="#63b07a" stroke-width="1.9" opacity="0.7"/>
<path d="M134.6,434 C138.3,434 149.5,434.4 156.9,434 C164.4,433.6 171.9,432.6 179.3,431.7 C186.8,430.8 194.2,429.6 201.7,428.7 C209.1,427.9 216.6,427.5 224.1,426.4 C231.5,425.3 239,423.8 246.4,422.3 C253.9,420.7 261.3,418.7 268.8,417 C276.2,415.2 283.7,413.5 291.2,411.7 C298.6,409.8 306.1,408.7 313.5,405.8 C321,402.8 328.4,397 335.9,394 C343.4,391.1 350.8,390.3 358.3,388.1 C365.7,386 373.2,383.4 380.6,381.1 C388.1,378.7 395.6,376.4 403,374 C410.5,371.7 417.9,369.5 425.4,366.9 C432.8,364.4 440.3,362 447.8,358.7 C455.2,355.4 462.7,350.9 470.1,346.9 C477.6,343 485,339.9 492.5,335.2 C499.9,330.5 507.4,324.4 514.9,318.7 C522.3,313 529.8,305.9 537.2,301 C544.7,296.1 555.9,291.2 559.6,289.3" fill="none" stroke="#63b07a" stroke-width="1.7" stroke-linejoin="round" stroke-linecap="round" />
<circle cx="134.6" cy="434" r="1.8" fill="#63b07a"/>
<circle cx="156.9" cy="434" r="1.8" fill="#63b07a"/>
<circle cx="179.3" cy="431.7" r="1.8" fill="#63b07a"/>
<circle cx="201.7" cy="428.7" r="1.8" fill="#63b07a"/>
<circle cx="224.1" cy="426.4" r="1.8" fill="#63b07a"/>
<circle cx="246.4" cy="422.3" r="1.8" fill="#63b07a"/>
<circle cx="268.8" cy="417" r="1.8" fill="#63b07a"/>
<circle cx="291.2" cy="411.7" r="1.8" fill="#63b07a"/>
<circle cx="313.5" cy="405.8" r="1.8" fill="#63b07a"/>
<circle cx="335.9" cy="394" r="1.8" fill="#63b07a"/>
<circle cx="358.3" cy="388.1" r="1.8" fill="#63b07a"/>
<circle cx="380.6" cy="381.1" r="1.8" fill="#63b07a"/>
<circle cx="403" cy="374" r="1.8" fill="#63b07a"/>
<circle cx="425.4" cy="366.9" r="1.8" fill="#63b07a"/>
<circle cx="447.8" cy="358.7" r="1.8" fill="#63b07a"/>
<circle cx="470.1" cy="346.9" r="1.8" fill="#63b07a"/>
<circle cx="492.5" cy="335.2" r="1.8" fill="#63b07a"/>
<circle cx="514.9" cy="318.7" r="1.8" fill="#63b07a"/>
<circle cx="537.2" cy="301" r="1.8" fill="#63b07a"/>
<circle cx="559.6" cy="289.3" r="1.8" fill="#63b07a"/>
<line x1="134.6" y1="429.3" x2="134.6" y2="438.7" stroke="#c7b440" stroke-width="1.3" opacity="0.7"/>
<line x1="128.1" y1="429.3" x2="141.1" y2="429.3" stroke="#c7b440" stroke-width="1.9" opacity="0.7"/>
<line x1="128.1" y1="438.7" x2="141.1" y2="438.7" stroke="#c7b440" stroke-width="1.9" opacity="0.7"/>
<line x1="156.9" y1="427.2" x2="156.9" y2="439" stroke="#c7b440" stroke-width="1.3" opacity="0.7"/>
<line x1="150.4" y1="427.2" x2="163.4" y2="427.2" stroke="#c7b440" stroke-width="1.9" opacity="0.7"/>
<line x1="150.4" y1="439" x2="163.4" y2="439" stroke="#c7b440" stroke-width="1.9" opacity="0.7"/>
<line x1="179.3" y1="425.6" x2="179.3" y2="437.3" stroke="#c7b440" stroke-width="1.3" opacity="0.7"/>
<line x1="172.8" y1="425.6" x2="185.8" y2="425.6" stroke="#c7b440" stroke-width="1.9" opacity="0.7"/>
<line x1="172.8" y1="437.3" x2="185.8" y2="437.3" stroke="#c7b440" stroke-width="1.9" opacity="0.7"/>
<line x1="201.7" y1="421.7" x2="201.7" y2="434.6" stroke="#c7b440" stroke-width="1.3" opacity="0.7"/>
<line x1="195.2" y1="421.7" x2="208.2" y2="421.7" stroke="#c7b440" stroke-width="1.9" opacity="0.7"/>
<line x1="195.2" y1="434.6" x2="208.2" y2="434.6" stroke="#c7b440" stroke-width="1.9" opacity="0.7"/>
<line x1="224.1" y1="419.3" x2="224.1" y2="432.3" stroke="#c7b440" stroke-width="1.3" opacity="0.7"/>
<line x1="217.6" y1="419.3" x2="230.6" y2="419.3" stroke="#c7b440" stroke-width="1.9" opacity="0.7"/>
<line x1="217.6" y1="432.3" x2="230.6" y2="432.3" stroke="#c7b440" stroke-width="1.9" opacity="0.7"/>
<line x1="246.4" y1="414" x2="246.4" y2="428.2" stroke="#c7b440" stroke-width="1.3" opacity="0.7"/>
<line x1="239.9" y1="414" x2="252.9" y2="414" stroke="#c7b440" stroke-width="1.9" opacity="0.7"/>
<line x1="239.9" y1="428.2" x2="252.9" y2="428.2" stroke="#c7b440" stroke-width="1.9" opacity="0.7"/>
<line x1="268.8" y1="408.1" x2="268.8" y2="424.6" stroke="#c7b440" stroke-width="1.3" opacity="0.7"/>
<line x1="262.3" y1="408.1" x2="275.3" y2="408.1" stroke="#c7b440" stroke-width="1.9" opacity="0.7"/>
<line x1="262.3" y1="424.6" x2="275.3" y2="424.6" stroke="#c7b440" stroke-width="1.9" opacity="0.7"/>
<line x1="291.2" y1="402.3" x2="291.2" y2="421.1" stroke="#c7b440" stroke-width="1.3" opacity="0.7"/>
<line x1="284.7" y1="402.3" x2="297.7" y2="402.3" stroke="#c7b440" stroke-width="1.9" opacity="0.7"/>
<line x1="284.7" y1="421.1" x2="297.7" y2="421.1" stroke="#c7b440" stroke-width="1.9" opacity="0.7"/>
<line x1="313.5" y1="394" x2="313.5" y2="415.2" stroke="#c7b440" stroke-width="1.3" opacity="0.7"/>
<line x1="307" y1="394" x2="320" y2="394" stroke="#c7b440" stroke-width="1.9" opacity="0.7"/>
<line x1="307" y1="415.2" x2="320" y2="415.2" stroke="#c7b440" stroke-width="1.9" opacity="0.7"/>
<line x1="335.9" y1="382.7" x2="335.9" y2="406.3" stroke="#c7b440" stroke-width="1.3" opacity="0.7"/>
<line x1="329.4" y1="382.7" x2="342.4" y2="382.7" stroke="#c7b440" stroke-width="1.9" opacity="0.7"/>
<line x1="329.4" y1="406.3" x2="342.4" y2="406.3" stroke="#c7b440" stroke-width="1.9" opacity="0.7"/>
<line x1="358.3" y1="374.2" x2="358.3" y2="400.1" stroke="#c7b440" stroke-width="1.3" opacity="0.7"/>
<line x1="351.8" y1="374.2" x2="364.8" y2="374.2" stroke="#c7b440" stroke-width="1.9" opacity="0.7"/>
<line x1="351.8" y1="400.1" x2="364.8" y2="400.1" stroke="#c7b440" stroke-width="1.9" opacity="0.7"/>
<line x1="380.6" y1="365.9" x2="380.6" y2="394.1" stroke="#c7b440" stroke-width="1.3" opacity="0.7"/>
<line x1="374.1" y1="365.9" x2="387.1" y2="365.9" stroke="#c7b440" stroke-width="1.9" opacity="0.7"/>
<line x1="374.1" y1="394.1" x2="387.1" y2="394.1" stroke="#c7b440" stroke-width="1.9" opacity="0.7"/>
<line x1="403" y1="357.4" x2="403" y2="388" stroke="#c7b440" stroke-width="1.3" opacity="0.7"/>
<line x1="396.5" y1="357.4" x2="409.5" y2="357.4" stroke="#c7b440" stroke-width="1.9" opacity="0.7"/>
<line x1="396.5" y1="388" x2="409.5" y2="388" stroke="#c7b440" stroke-width="1.9" opacity="0.7"/>
<line x1="425.4" y1="348.9" x2="425.4" y2="381.9" stroke="#c7b440" stroke-width="1.3" opacity="0.7"/>
<line x1="418.9" y1="348.9" x2="431.9" y2="348.9" stroke="#c7b440" stroke-width="1.9" opacity="0.7"/>
<line x1="418.9" y1="381.9" x2="431.9" y2="381.9" stroke="#c7b440" stroke-width="1.9" opacity="0.7"/>
<line x1="447.8" y1="342.3" x2="447.8" y2="377.7" stroke="#c7b440" stroke-width="1.3" opacity="0.7"/>
<line x1="441.2" y1="342.3" x2="454.2" y2="342.3" stroke="#c7b440" stroke-width="1.9" opacity="0.7"/>
<line x1="441.2" y1="377.7" x2="454.2" y2="377.7" stroke="#c7b440" stroke-width="1.9" opacity="0.7"/>
<line x1="470.1" y1="327.3" x2="470.1" y2="367.3" stroke="#c7b440" stroke-width="1.3" opacity="0.7"/>
<line x1="463.6" y1="327.3" x2="476.6" y2="327.3" stroke="#c7b440" stroke-width="1.9" opacity="0.7"/>
<line x1="463.6" y1="367.3" x2="476.6" y2="367.3" stroke="#c7b440" stroke-width="1.9" opacity="0.7"/>
<line x1="492.5" y1="314.1" x2="492.5" y2="358.8" stroke="#c7b440" stroke-width="1.3" opacity="0.7"/>
<line x1="486" y1="314.1" x2="499" y2="314.1" stroke="#c7b440" stroke-width="1.9" opacity="0.7"/>
<line x1="486" y1="358.8" x2="499" y2="358.8" stroke="#c7b440" stroke-width="1.9" opacity="0.7"/>
<line x1="514.9" y1="297.6" x2="514.9" y2="344.7" stroke="#c7b440" stroke-width="1.3" opacity="0.7"/>
<line x1="508.4" y1="297.6" x2="521.4" y2="297.6" stroke="#c7b440" stroke-width="1.9" opacity="0.7"/>
<line x1="508.4" y1="344.7" x2="521.4" y2="344.7" stroke="#c7b440" stroke-width="1.9" opacity="0.7"/>
<line x1="537.2" y1="277.5" x2="537.2" y2="331.6" stroke="#c7b440" stroke-width="1.3" opacity="0.7"/>
<line x1="530.7" y1="277.5" x2="543.7" y2="277.5" stroke="#c7b440" stroke-width="1.9" opacity="0.7"/>
<line x1="530.7" y1="331.6" x2="543.7" y2="331.6" stroke="#c7b440" stroke-width="1.9" opacity="0.7"/>
<line x1="559.6" y1="261.5" x2="559.6" y2="322.7" stroke="#c7b440" stroke-width="1.3" opacity="0.7"/>
<line x1="553.1" y1="261.5" x2="566.1" y2="261.5" stroke="#c7b440" stroke-width="1.9" opacity="0.7"/>
<line x1="553.1" y1="322.7" x2="566.1" y2="322.7" stroke="#c7b440" stroke-width="1.9" opacity="0.7"/>
<path d="M134.6,434 C138.3,433.9 149.5,433.5 156.9,433.1 C164.4,432.7 171.9,432.3 179.3,431.4 C186.8,430.6 194.2,429.1 201.7,428.2 C209.1,427.2 216.6,427 224.1,425.8 C231.5,424.6 239,422.7 246.4,421.1 C253.9,419.5 261.3,418 268.8,416.4 C276.2,414.8 283.7,413.6 291.2,411.7 C298.6,409.7 306.1,407.5 313.5,404.6 C321,401.7 328.4,397.4 335.9,394.5 C343.4,391.6 350.8,389.6 358.3,387.2 C365.7,384.8 373.2,382.4 380.6,380 C388.1,377.6 395.6,375.1 403,372.7 C410.5,370.3 417.9,367.5 425.4,365.4 C432.8,363.3 440.3,363 447.8,360 C455.2,357 462.7,351.2 470.1,347.3 C477.6,343.4 485,340.8 492.5,336.5 C499.9,332.1 507.4,326.5 514.9,321.2 C522.3,315.8 529.8,309.4 537.2,304.6 C544.7,299.7 555.9,294.2 559.6,292.1" fill="none" stroke="#c7b440" stroke-width="1.7" stroke-linejoin="round" stroke-linecap="round" />
<circle cx="134.6" cy="434" r="1.8" fill="#c7b440"/>
<circle cx="156.9" cy="433.1" r="1.8" fill="#c7b440"/>
<circle cx="179.3" cy="431.4" r="1.8" fill="#c7b440"/>
<circle cx="201.7" cy="428.2" r="1.8" fill="#c7b440"/>
<circle cx="224.1" cy="425.8" r="1.8" fill="#c7b440"/>
<circle cx="246.4" cy="421.1" r="1.8" fill="#c7b440"/>
<circle cx="268.8" cy="416.4" r="1.8" fill="#c7b440"/>
<circle cx="291.2" cy="411.7" r="1.8" fill="#c7b440"/>
<circle cx="313.5" cy="404.6" r="1.8" fill="#c7b440"/>
<circle cx="335.9" cy="394.5" r="1.8" fill="#c7b440"/>
<circle cx="358.3" cy="387.2" r="1.8" fill="#c7b440"/>
<circle cx="380.6" cy="380" r="1.8" fill="#c7b440"/>
<circle cx="403" cy="372.7" r="1.8" fill="#c7b440"/>
<circle cx="425.4" cy="365.4" r="1.8" fill="#c7b440"/>
<circle cx="447.8" cy="360" r="1.8" fill="#c7b440"/>
<circle cx="470.1" cy="347.3" r="1.8" fill="#c7b440"/>
<circle cx="492.5" cy="336.5" r="1.8" fill="#c7b440"/>
<circle cx="514.9" cy="321.2" r="1.8" fill="#c7b440"/>
<circle cx="537.2" cy="304.6" r="1.8" fill="#c7b440"/>
<circle cx="559.6" cy="292.1" r="1.8" fill="#c7b440"/>
<line x1="134.6" y1="428.2" x2="134.6" y2="437.6" stroke="#e8342c" stroke-width="1.3" opacity="0.7"/>
<line x1="128.1" y1="428.2" x2="141.1" y2="428.2" stroke="#e8342c" stroke-width="1.9" opacity="0.7"/>
<line x1="128.1" y1="437.6" x2="141.1" y2="437.6" stroke="#e8342c" stroke-width="1.9" opacity="0.7"/>
<line x1="156.9" y1="418.4" x2="156.9" y2="431.3" stroke="#e8342c" stroke-width="1.3" opacity="0.7"/>
<line x1="150.4" y1="418.4" x2="163.4" y2="418.4" stroke="#e8342c" stroke-width="1.9" opacity="0.7"/>
<line x1="150.4" y1="431.3" x2="163.4" y2="431.3" stroke="#e8342c" stroke-width="1.9" opacity="0.7"/>
<line x1="179.3" y1="418.4" x2="179.3" y2="431.3" stroke="#e8342c" stroke-width="1.3" opacity="0.7"/>
<line x1="172.8" y1="418.4" x2="185.8" y2="418.4" stroke="#e8342c" stroke-width="1.9" opacity="0.7"/>
<line x1="172.8" y1="431.3" x2="185.8" y2="431.3" stroke="#e8342c" stroke-width="1.9" opacity="0.7"/>
<line x1="201.7" y1="415.3" x2="201.7" y2="429.4" stroke="#e8342c" stroke-width="1.3" opacity="0.7"/>
<line x1="195.2" y1="415.3" x2="208.2" y2="415.3" stroke="#e8342c" stroke-width="1.9" opacity="0.7"/>
<line x1="195.2" y1="429.4" x2="208.2" y2="429.4" stroke="#e8342c" stroke-width="1.9" opacity="0.7"/>
<line x1="224.1" y1="409.6" x2="224.1" y2="423.7" stroke="#e8342c" stroke-width="1.3" opacity="0.7"/>
<line x1="217.6" y1="409.6" x2="230.6" y2="409.6" stroke="#e8342c" stroke-width="1.9" opacity="0.7"/>
<line x1="217.6" y1="423.7" x2="230.6" y2="423.7" stroke="#e8342c" stroke-width="1.9" opacity="0.7"/>
<line x1="246.4" y1="400.8" x2="246.4" y2="417.3" stroke="#e8342c" stroke-width="1.3" opacity="0.7"/>
<line x1="239.9" y1="400.8" x2="252.9" y2="400.8" stroke="#e8342c" stroke-width="1.9" opacity="0.7"/>
<line x1="239.9" y1="417.3" x2="252.9" y2="417.3" stroke="#e8342c" stroke-width="1.9" opacity="0.7"/>
<line x1="268.8" y1="394.7" x2="268.8" y2="413.6" stroke="#e8342c" stroke-width="1.3" opacity="0.7"/>
<line x1="262.3" y1="394.7" x2="275.3" y2="394.7" stroke="#e8342c" stroke-width="1.9" opacity="0.7"/>
<line x1="262.3" y1="413.6" x2="275.3" y2="413.6" stroke="#e8342c" stroke-width="1.9" opacity="0.7"/>
<line x1="291.2" y1="387.7" x2="291.2" y2="408.8" stroke="#e8342c" stroke-width="1.3" opacity="0.7"/>
<line x1="284.7" y1="387.7" x2="297.7" y2="387.7" stroke="#e8342c" stroke-width="1.9" opacity="0.7"/>
<line x1="284.7" y1="408.8" x2="297.7" y2="408.8" stroke="#e8342c" stroke-width="1.9" opacity="0.7"/>
<line x1="313.5" y1="379.9" x2="313.5" y2="403.4" stroke="#e8342c" stroke-width="1.3" opacity="0.7"/>
<line x1="307" y1="379.9" x2="320" y2="379.9" stroke="#e8342c" stroke-width="1.9" opacity="0.7"/>
<line x1="307" y1="403.4" x2="320" y2="403.4" stroke="#e8342c" stroke-width="1.9" opacity="0.7"/>
<line x1="335.9" y1="371.5" x2="335.9" y2="397.4" stroke="#e8342c" stroke-width="1.3" opacity="0.7"/>
<line x1="329.4" y1="371.5" x2="342.4" y2="371.5" stroke="#e8342c" stroke-width="1.9" opacity="0.7"/>
<line x1="329.4" y1="397.4" x2="342.4" y2="397.4" stroke="#e8342c" stroke-width="1.9" opacity="0.7"/>
<line x1="358.3" y1="366.1" x2="358.3" y2="392" stroke="#e8342c" stroke-width="1.3" opacity="0.7"/>
<line x1="351.8" y1="366.1" x2="364.8" y2="366.1" stroke="#e8342c" stroke-width="1.9" opacity="0.7"/>
<line x1="351.8" y1="392" x2="364.8" y2="392" stroke="#e8342c" stroke-width="1.9" opacity="0.7"/>
<line x1="380.6" y1="360.1" x2="380.6" y2="388.4" stroke="#e8342c" stroke-width="1.3" opacity="0.7"/>
<line x1="374.1" y1="360.1" x2="387.1" y2="360.1" stroke="#e8342c" stroke-width="1.9" opacity="0.7"/>
<line x1="374.1" y1="388.4" x2="387.1" y2="388.4" stroke="#e8342c" stroke-width="1.9" opacity="0.7"/>
<line x1="403" y1="352.8" x2="403" y2="381.1" stroke="#e8342c" stroke-width="1.3" opacity="0.7"/>
<line x1="396.5" y1="352.8" x2="409.5" y2="352.8" stroke="#e8342c" stroke-width="1.9" opacity="0.7"/>
<line x1="396.5" y1="381.1" x2="409.5" y2="381.1" stroke="#e8342c" stroke-width="1.9" opacity="0.7"/>
<line x1="425.4" y1="342.9" x2="425.4" y2="373.5" stroke="#e8342c" stroke-width="1.3" opacity="0.7"/>
<line x1="418.9" y1="342.9" x2="431.9" y2="342.9" stroke="#e8342c" stroke-width="1.9" opacity="0.7"/>
<line x1="418.9" y1="373.5" x2="431.9" y2="373.5" stroke="#e8342c" stroke-width="1.9" opacity="0.7"/>
<line x1="447.8" y1="330.3" x2="447.8" y2="360.9" stroke="#e8342c" stroke-width="1.3" opacity="0.7"/>
<line x1="441.2" y1="330.3" x2="454.2" y2="330.3" stroke="#e8342c" stroke-width="1.9" opacity="0.7"/>
<line x1="441.2" y1="360.9" x2="454.2" y2="360.9" stroke="#e8342c" stroke-width="1.9" opacity="0.7"/>
<line x1="470.1" y1="318.6" x2="470.1" y2="349.2" stroke="#e8342c" stroke-width="1.3" opacity="0.7"/>
<line x1="463.6" y1="318.6" x2="476.6" y2="318.6" stroke="#e8342c" stroke-width="1.9" opacity="0.7"/>
<line x1="463.6" y1="349.2" x2="476.6" y2="349.2" stroke="#e8342c" stroke-width="1.9" opacity="0.7"/>
<line x1="492.5" y1="303.4" x2="492.5" y2="336.3" stroke="#e8342c" stroke-width="1.3" opacity="0.7"/>
<line x1="486" y1="303.4" x2="499" y2="303.4" stroke="#e8342c" stroke-width="1.9" opacity="0.7"/>
<line x1="486" y1="336.3" x2="499" y2="336.3" stroke="#e8342c" stroke-width="1.9" opacity="0.7"/>
<line x1="514.9" y1="284.2" x2="514.9" y2="321.9" stroke="#e8342c" stroke-width="1.3" opacity="0.7"/>
<line x1="508.4" y1="284.2" x2="521.4" y2="284.2" stroke="#e8342c" stroke-width="1.9" opacity="0.7"/>
<line x1="508.4" y1="321.9" x2="521.4" y2="321.9" stroke="#e8342c" stroke-width="1.9" opacity="0.7"/>
<line x1="537.2" y1="258.7" x2="537.2" y2="305.7" stroke="#e8342c" stroke-width="1.3" opacity="0.7"/>
<line x1="530.7" y1="258.7" x2="543.7" y2="258.7" stroke="#e8342c" stroke-width="1.9" opacity="0.7"/>
<line x1="530.7" y1="305.7" x2="543.7" y2="305.7" stroke="#e8342c" stroke-width="1.9" opacity="0.7"/>
<line x1="559.6" y1="228.9" x2="559.6" y2="287.7" stroke="#e8342c" stroke-width="1.3" opacity="0.7"/>
<line x1="553.1" y1="228.9" x2="566.1" y2="228.9" stroke="#e8342c" stroke-width="1.9" opacity="0.7"/>
<line x1="553.1" y1="287.7" x2="566.1" y2="287.7" stroke="#e8342c" stroke-width="1.9" opacity="0.7"/>
<path d="M134.6,432.9 C138.3,431.5 149.5,426.2 156.9,424.9 C164.4,423.5 171.9,425.3 179.3,424.9 C186.8,424.4 194.2,423.8 201.7,422.4 C209.1,421 216.6,418.8 224.1,416.6 C231.5,414.4 239,411.2 246.4,409.1 C253.9,407 261.3,405.9 268.8,404.1 C276.2,402.3 283.7,400.3 291.2,398.3 C298.6,396.2 306.1,394 313.5,391.7 C321,389.4 328.4,386.6 335.9,384.5 C343.4,382.4 350.8,380.8 358.3,379.1 C365.7,377.4 373.2,376.3 380.6,374.2 C388.1,372.2 395.6,369.6 403,366.9 C410.5,364.3 417.9,361.8 425.4,358.2 C432.8,354.7 440.3,349.7 447.8,345.6 C455.2,341.6 462.7,338.2 470.1,333.9 C477.6,329.6 485,325 492.5,319.9 C499.9,314.7 507.4,309.3 514.9,303 C522.3,296.8 529.8,289.7 537.2,282.2 C544.7,274.7 555.9,262.3 559.6,258.3" fill="none" stroke="#e8342c" stroke-width="1.7" stroke-linejoin="round" stroke-linecap="round" />
<circle cx="134.6" cy="432.9" r="1.8" fill="#e8342c"/>
<circle cx="156.9" cy="424.9" r="1.8" fill="#e8342c"/>
<circle cx="179.3" cy="424.9" r="1.8" fill="#e8342c"/>
<circle cx="201.7" cy="422.4" r="1.8" fill="#e8342c"/>
<circle cx="224.1" cy="416.6" r="1.8" fill="#e8342c"/>
<circle cx="246.4" cy="409.1" r="1.8" fill="#e8342c"/>
<circle cx="268.8" cy="404.1" r="1.8" fill="#e8342c"/>
<circle cx="291.2" cy="398.3" r="1.8" fill="#e8342c"/>
<circle cx="313.5" cy="391.7" r="1.8" fill="#e8342c"/>
<circle cx="335.9" cy="384.5" r="1.8" fill="#e8342c"/>
<circle cx="358.3" cy="379.1" r="1.8" fill="#e8342c"/>
<circle cx="380.6" cy="374.2" r="1.8" fill="#e8342c"/>
<circle cx="403" cy="366.9" r="1.8" fill="#e8342c"/>
<circle cx="425.4" cy="358.2" r="1.8" fill="#e8342c"/>
<circle cx="447.8" cy="345.6" r="1.8" fill="#e8342c"/>
<circle cx="470.1" cy="333.9" r="1.8" fill="#e8342c"/>
<circle cx="492.5" cy="319.9" r="1.8" fill="#e8342c"/>
<circle cx="514.9" cy="303" r="1.8" fill="#e8342c"/>
<circle cx="537.2" cy="282.2" r="1.8" fill="#e8342c"/>
<circle cx="559.6" cy="258.3" r="1.8" fill="#e8342c"/>
<line x1="134.6" y1="428.2" x2="134.6" y2="437.6" stroke="#4a66a8" stroke-width="1.3" opacity="0.7"/>
<line x1="128.1" y1="428.2" x2="141.1" y2="428.2" stroke="#4a66a8" stroke-width="1.9" opacity="0.7"/>
<line x1="128.1" y1="437.6" x2="141.1" y2="437.6" stroke="#4a66a8" stroke-width="1.9" opacity="0.7"/>
<line x1="156.9" y1="424" x2="156.9" y2="435.8" stroke="#4a66a8" stroke-width="1.3" opacity="0.7"/>
<line x1="150.4" y1="424" x2="163.4" y2="424" stroke="#4a66a8" stroke-width="1.9" opacity="0.7"/>
<line x1="150.4" y1="435.8" x2="163.4" y2="435.8" stroke="#4a66a8" stroke-width="1.9" opacity="0.7"/>
<line x1="179.3" y1="420.1" x2="179.3" y2="433.1" stroke="#4a66a8" stroke-width="1.3" opacity="0.7"/>
<line x1="172.8" y1="420.1" x2="185.8" y2="420.1" stroke="#4a66a8" stroke-width="1.9" opacity="0.7"/>
<line x1="172.8" y1="433.1" x2="185.8" y2="433.1" stroke="#4a66a8" stroke-width="1.9" opacity="0.7"/>
<line x1="201.7" y1="411.7" x2="201.7" y2="425.8" stroke="#4a66a8" stroke-width="1.3" opacity="0.7"/>
<line x1="195.2" y1="411.7" x2="208.2" y2="411.7" stroke="#4a66a8" stroke-width="1.9" opacity="0.7"/>
<line x1="195.2" y1="425.8" x2="208.2" y2="425.8" stroke="#4a66a8" stroke-width="1.9" opacity="0.7"/>
<line x1="224.1" y1="404.6" x2="224.1" y2="421.1" stroke="#4a66a8" stroke-width="1.3" opacity="0.7"/>
<line x1="217.6" y1="404.6" x2="230.6" y2="404.6" stroke="#4a66a8" stroke-width="1.9" opacity="0.7"/>
<line x1="217.6" y1="421.1" x2="230.6" y2="421.1" stroke="#4a66a8" stroke-width="1.9" opacity="0.7"/>
<line x1="246.4" y1="391.7" x2="246.4" y2="410.5" stroke="#4a66a8" stroke-width="1.3" opacity="0.7"/>
<line x1="239.9" y1="391.7" x2="252.9" y2="391.7" stroke="#4a66a8" stroke-width="1.9" opacity="0.7"/>
<line x1="239.9" y1="410.5" x2="252.9" y2="410.5" stroke="#4a66a8" stroke-width="1.9" opacity="0.7"/>
<line x1="268.8" y1="382.6" x2="268.8" y2="403.8" stroke="#4a66a8" stroke-width="1.3" opacity="0.7"/>
<line x1="262.3" y1="382.6" x2="275.3" y2="382.6" stroke="#4a66a8" stroke-width="1.9" opacity="0.7"/>
<line x1="262.3" y1="403.8" x2="275.3" y2="403.8" stroke="#4a66a8" stroke-width="1.9" opacity="0.7"/>
<line x1="291.2" y1="368.1" x2="291.2" y2="394" stroke="#4a66a8" stroke-width="1.3" opacity="0.7"/>
<line x1="284.7" y1="368.1" x2="297.7" y2="368.1" stroke="#4a66a8" stroke-width="1.9" opacity="0.7"/>
<line x1="284.7" y1="394" x2="297.7" y2="394" stroke="#4a66a8" stroke-width="1.9" opacity="0.7"/>
<line x1="313.5" y1="351.6" x2="313.5" y2="382.2" stroke="#4a66a8" stroke-width="1.3" opacity="0.7"/>
<line x1="307" y1="351.6" x2="320" y2="351.6" stroke="#4a66a8" stroke-width="1.9" opacity="0.7"/>
<line x1="307" y1="382.2" x2="320" y2="382.2" stroke="#4a66a8" stroke-width="1.9" opacity="0.7"/>
<line x1="335.9" y1="337.1" x2="335.9" y2="370" stroke="#4a66a8" stroke-width="1.3" opacity="0.7"/>
<line x1="329.4" y1="337.1" x2="342.4" y2="337.1" stroke="#4a66a8" stroke-width="1.9" opacity="0.7"/>
<line x1="329.4" y1="370" x2="342.4" y2="370" stroke="#4a66a8" stroke-width="1.9" opacity="0.7"/>
<line x1="358.3" y1="321" x2="358.3" y2="356.4" stroke="#4a66a8" stroke-width="1.3" opacity="0.7"/>
<line x1="351.8" y1="321" x2="364.8" y2="321" stroke="#4a66a8" stroke-width="1.9" opacity="0.7"/>
<line x1="351.8" y1="356.4" x2="364.8" y2="356.4" stroke="#4a66a8" stroke-width="1.9" opacity="0.7"/>
<line x1="380.6" y1="306.3" x2="380.6" y2="346.4" stroke="#4a66a8" stroke-width="1.3" opacity="0.7"/>
<line x1="374.1" y1="306.3" x2="387.1" y2="306.3" stroke="#4a66a8" stroke-width="1.9" opacity="0.7"/>
<line x1="374.1" y1="346.4" x2="387.1" y2="346.4" stroke="#4a66a8" stroke-width="1.9" opacity="0.7"/>
<line x1="403" y1="289" x2="403" y2="336.1" stroke="#4a66a8" stroke-width="1.3" opacity="0.7"/>
<line x1="396.5" y1="289" x2="409.5" y2="289" stroke="#4a66a8" stroke-width="1.9" opacity="0.7"/>
<line x1="396.5" y1="336.1" x2="409.5" y2="336.1" stroke="#4a66a8" stroke-width="1.9" opacity="0.7"/>
<line x1="425.4" y1="271.6" x2="425.4" y2="321" stroke="#4a66a8" stroke-width="1.3" opacity="0.7"/>
<line x1="418.9" y1="271.6" x2="431.9" y2="271.6" stroke="#4a66a8" stroke-width="1.9" opacity="0.7"/>
<line x1="418.9" y1="321" x2="431.9" y2="321" stroke="#4a66a8" stroke-width="1.9" opacity="0.7"/>
<line x1="447.8" y1="244.5" x2="447.8" y2="296.3" stroke="#4a66a8" stroke-width="1.3" opacity="0.7"/>
<line x1="441.2" y1="244.5" x2="454.2" y2="244.5" stroke="#4a66a8" stroke-width="1.9" opacity="0.7"/>
<line x1="441.2" y1="296.3" x2="454.2" y2="296.3" stroke="#4a66a8" stroke-width="1.9" opacity="0.7"/>
<line x1="470.1" y1="209.2" x2="470.1" y2="263.4" stroke="#4a66a8" stroke-width="1.3" opacity="0.7"/>
<line x1="463.6" y1="209.2" x2="476.6" y2="209.2" stroke="#4a66a8" stroke-width="1.9" opacity="0.7"/>
<line x1="463.6" y1="263.4" x2="476.6" y2="263.4" stroke="#4a66a8" stroke-width="1.9" opacity="0.7"/>
<line x1="492.5" y1="191.6" x2="492.5" y2="250.4" stroke="#4a66a8" stroke-width="1.3" opacity="0.7"/>
<line x1="486" y1="191.6" x2="499" y2="191.6" stroke="#4a66a8" stroke-width="1.9" opacity="0.7"/>
<line x1="486" y1="250.4" x2="499" y2="250.4" stroke="#4a66a8" stroke-width="1.9" opacity="0.7"/>
<line x1="514.9" y1="164.5" x2="514.9" y2="230.4" stroke="#4a66a8" stroke-width="1.3" opacity="0.7"/>
<line x1="508.4" y1="164.5" x2="521.4" y2="164.5" stroke="#4a66a8" stroke-width="1.9" opacity="0.7"/>
<line x1="508.4" y1="230.4" x2="521.4" y2="230.4" stroke="#4a66a8" stroke-width="1.9" opacity="0.7"/>
<line x1="537.2" y1="151.6" x2="537.2" y2="222.2" stroke="#4a66a8" stroke-width="1.3" opacity="0.7"/>
<line x1="530.7" y1="151.6" x2="543.7" y2="151.6" stroke="#4a66a8" stroke-width="1.9" opacity="0.7"/>
<line x1="530.7" y1="222.2" x2="543.7" y2="222.2" stroke="#4a66a8" stroke-width="1.9" opacity="0.7"/>
<line x1="559.6" y1="132" x2="559.6" y2="207.3" stroke="#4a66a8" stroke-width="1.3" opacity="0.7"/>
<line x1="553.1" y1="132" x2="566.1" y2="132" stroke="#4a66a8" stroke-width="1.9" opacity="0.7"/>
<line x1="553.1" y1="207.3" x2="566.1" y2="207.3" stroke="#4a66a8" stroke-width="1.9" opacity="0.7"/>
<path d="M134.6,432.9 C138.3,432.4 149.5,431 156.9,429.9 C164.4,428.9 171.9,428.5 179.3,426.6 C186.8,424.8 194.2,421 201.7,418.7 C209.1,416.4 216.6,415.8 224.1,412.9 C231.5,409.9 239,404.4 246.4,401.1 C253.9,397.8 261.3,396.5 268.8,393.2 C276.2,389.9 283.7,385.4 291.2,381.1 C298.6,376.7 306.1,371.5 313.5,366.9 C321,362.4 328.4,358.2 335.9,353.5 C343.4,348.8 350.8,343.2 358.3,338.7 C365.7,334.2 373.2,330.7 380.6,326.3 C388.1,322 395.6,317.6 403,312.6 C410.5,307.6 417.9,303.4 425.4,296.3 C432.8,289.3 440.3,280.4 447.8,270.4 C455.2,260.4 462.7,244.5 470.1,236.3 C477.6,228.1 485,227.5 492.5,221 C499.9,214.5 507.4,203.1 514.9,197.5 C522.3,191.8 529.8,191.5 537.2,186.9 C544.7,182.2 555.9,172.5 559.6,169.7" fill="none" stroke="#4a66a8" stroke-width="1.7" stroke-linejoin="round" stroke-linecap="round" />
<circle cx="134.6" cy="432.9" r="1.8" fill="#4a66a8"/>
<circle cx="156.9" cy="429.9" r="1.8" fill="#4a66a8"/>
<circle cx="179.3" cy="426.6" r="1.8" fill="#4a66a8"/>
<circle cx="201.7" cy="418.7" r="1.8" fill="#4a66a8"/>
<circle cx="224.1" cy="412.9" r="1.8" fill="#4a66a8"/>
<circle cx="246.4" cy="401.1" r="1.8" fill="#4a66a8"/>
<circle cx="268.8" cy="393.2" r="1.8" fill="#4a66a8"/>
<circle cx="291.2" cy="381.1" r="1.8" fill="#4a66a8"/>
<circle cx="313.5" cy="366.9" r="1.8" fill="#4a66a8"/>
<circle cx="335.9" cy="353.5" r="1.8" fill="#4a66a8"/>
<circle cx="358.3" cy="338.7" r="1.8" fill="#4a66a8"/>
<circle cx="380.6" cy="326.3" r="1.8" fill="#4a66a8"/>
<circle cx="403" cy="312.6" r="1.8" fill="#4a66a8"/>
<circle cx="425.4" cy="296.3" r="1.8" fill="#4a66a8"/>
<circle cx="447.8" cy="270.4" r="1.8" fill="#4a66a8"/>
<circle cx="470.1" cy="236.3" r="1.8" fill="#4a66a8"/>
<circle cx="492.5" cy="221" r="1.8" fill="#4a66a8"/>
<circle cx="514.9" cy="197.5" r="1.8" fill="#4a66a8"/>
<circle cx="537.2" cy="186.9" r="1.8" fill="#4a66a8"/>
<circle cx="559.6" cy="169.7" r="1.8" fill="#4a66a8"/>
<line x1="134.6" y1="428.2" x2="134.6" y2="437.6" stroke="#111" stroke-width="1.3" opacity="0.85"/>
<line x1="128.1" y1="428.2" x2="141.1" y2="428.2" stroke="#111" stroke-width="1.9" opacity="0.85"/>
<line x1="128.1" y1="437.6" x2="141.1" y2="437.6" stroke="#111" stroke-width="1.9" opacity="0.85"/>
<line x1="156.9" y1="419.6" x2="156.9" y2="433.7" stroke="#111" stroke-width="1.3" opacity="0.85"/>
<line x1="150.4" y1="419.6" x2="163.4" y2="419.6" stroke="#111" stroke-width="1.9" opacity="0.85"/>
<line x1="150.4" y1="433.7" x2="163.4" y2="433.7" stroke="#111" stroke-width="1.9" opacity="0.85"/>
<line x1="179.3" y1="417" x2="179.3" y2="431.1" stroke="#111" stroke-width="1.3" opacity="0.85"/>
<line x1="172.8" y1="417" x2="185.8" y2="417" stroke="#111" stroke-width="1.9" opacity="0.85"/>
<line x1="172.8" y1="431.1" x2="185.8" y2="431.1" stroke="#111" stroke-width="1.9" opacity="0.85"/>
<line x1="201.7" y1="408.4" x2="201.7" y2="424.9" stroke="#111" stroke-width="1.3" opacity="0.85"/>
<line x1="195.2" y1="408.4" x2="208.2" y2="408.4" stroke="#111" stroke-width="1.9" opacity="0.85"/>
<line x1="195.2" y1="424.9" x2="208.2" y2="424.9" stroke="#111" stroke-width="1.9" opacity="0.85"/>
<line x1="224.1" y1="397.2" x2="224.1" y2="416" stroke="#111" stroke-width="1.3" opacity="0.85"/>
<line x1="217.6" y1="397.2" x2="230.6" y2="397.2" stroke="#111" stroke-width="1.9" opacity="0.85"/>
<line x1="217.6" y1="416" x2="230.6" y2="416" stroke="#111" stroke-width="1.9" opacity="0.85"/>
<line x1="246.4" y1="388.6" x2="246.4" y2="409.8" stroke="#111" stroke-width="1.3" opacity="0.85"/>
<line x1="239.9" y1="388.6" x2="252.9" y2="388.6" stroke="#111" stroke-width="1.9" opacity="0.85"/>
<line x1="239.9" y1="409.8" x2="252.9" y2="409.8" stroke="#111" stroke-width="1.9" opacity="0.85"/>
<line x1="268.8" y1="378.4" x2="268.8" y2="404.3" stroke="#111" stroke-width="1.3" opacity="0.85"/>
<line x1="262.3" y1="378.4" x2="275.3" y2="378.4" stroke="#111" stroke-width="1.9" opacity="0.85"/>
<line x1="262.3" y1="404.3" x2="275.3" y2="404.3" stroke="#111" stroke-width="1.9" opacity="0.85"/>
<line x1="291.2" y1="366" x2="291.2" y2="394.3" stroke="#111" stroke-width="1.3" opacity="0.85"/>
<line x1="284.7" y1="366" x2="297.7" y2="366" stroke="#111" stroke-width="1.9" opacity="0.85"/>
<line x1="284.7" y1="394.3" x2="297.7" y2="394.3" stroke="#111" stroke-width="1.9" opacity="0.85"/>
<line x1="313.5" y1="353.5" x2="313.5" y2="384.1" stroke="#111" stroke-width="1.3" opacity="0.85"/>
<line x1="307" y1="353.5" x2="320" y2="353.5" stroke="#111" stroke-width="1.9" opacity="0.85"/>
<line x1="307" y1="384.1" x2="320" y2="384.1" stroke="#111" stroke-width="1.9" opacity="0.85"/>
<line x1="335.9" y1="337.5" x2="335.9" y2="372.8" stroke="#111" stroke-width="1.3" opacity="0.85"/>
<line x1="329.4" y1="337.5" x2="342.4" y2="337.5" stroke="#111" stroke-width="1.9" opacity="0.85"/>
<line x1="329.4" y1="372.8" x2="342.4" y2="372.8" stroke="#111" stroke-width="1.9" opacity="0.85"/>
<line x1="358.3" y1="308.1" x2="358.3" y2="355.2" stroke="#111" stroke-width="1.3" opacity="0.85"/>
<line x1="351.8" y1="308.1" x2="364.8" y2="308.1" stroke="#111" stroke-width="1.9" opacity="0.85"/>
<line x1="351.8" y1="355.2" x2="364.8" y2="355.2" stroke="#111" stroke-width="1.9" opacity="0.85"/>
<line x1="380.6" y1="270.7" x2="380.6" y2="329.5" stroke="#111" stroke-width="1.3" opacity="0.85"/>
<line x1="374.1" y1="270.7" x2="387.1" y2="270.7" stroke="#111" stroke-width="1.9" opacity="0.85"/>
<line x1="374.1" y1="329.5" x2="387.1" y2="329.5" stroke="#111" stroke-width="1.9" opacity="0.85"/>
<line x1="403" y1="242.2" x2="403" y2="312.8" stroke="#111" stroke-width="1.3" opacity="0.85"/>
<line x1="396.5" y1="242.2" x2="409.5" y2="242.2" stroke="#111" stroke-width="1.9" opacity="0.85"/>
<line x1="396.5" y1="312.8" x2="409.5" y2="312.8" stroke="#111" stroke-width="1.9" opacity="0.85"/>
<line x1="425.4" y1="221.8" x2="425.4" y2="297.2" stroke="#111" stroke-width="1.3" opacity="0.85"/>
<line x1="418.9" y1="221.8" x2="431.9" y2="221.8" stroke="#111" stroke-width="1.9" opacity="0.85"/>
<line x1="418.9" y1="297.2" x2="431.9" y2="297.2" stroke="#111" stroke-width="1.9" opacity="0.85"/>
<line x1="447.8" y1="208.8" x2="447.8" y2="279.4" stroke="#111" stroke-width="1.3" opacity="0.85"/>
<line x1="441.2" y1="208.8" x2="454.2" y2="208.8" stroke="#111" stroke-width="1.9" opacity="0.85"/>
<line x1="441.2" y1="279.4" x2="454.2" y2="279.4" stroke="#111" stroke-width="1.9" opacity="0.85"/>
<line x1="470.1" y1="199.8" x2="470.1" y2="270.4" stroke="#111" stroke-width="1.3" opacity="0.85"/>
<line x1="463.6" y1="199.8" x2="476.6" y2="199.8" stroke="#111" stroke-width="1.9" opacity="0.85"/>
<line x1="463.6" y1="270.4" x2="476.6" y2="270.4" stroke="#111" stroke-width="1.9" opacity="0.85"/>
<line x1="492.5" y1="187.7" x2="492.5" y2="253.6" stroke="#111" stroke-width="1.3" opacity="0.85"/>
<line x1="486" y1="187.7" x2="499" y2="187.7" stroke="#111" stroke-width="1.9" opacity="0.85"/>
<line x1="486" y1="253.6" x2="499" y2="253.6" stroke="#111" stroke-width="1.9" opacity="0.85"/>
<line x1="514.9" y1="174.6" x2="514.9" y2="235.8" stroke="#111" stroke-width="1.3" opacity="0.85"/>
<line x1="508.4" y1="174.6" x2="521.4" y2="174.6" stroke="#111" stroke-width="1.9" opacity="0.85"/>
<line x1="508.4" y1="235.8" x2="521.4" y2="235.8" stroke="#111" stroke-width="1.9" opacity="0.85"/>
<line x1="537.2" y1="155.6" x2="537.2" y2="216.8" stroke="#111" stroke-width="1.3" opacity="0.85"/>
<line x1="530.7" y1="155.6" x2="543.7" y2="155.6" stroke="#111" stroke-width="1.9" opacity="0.85"/>
<line x1="530.7" y1="216.8" x2="543.7" y2="216.8" stroke="#111" stroke-width="1.9" opacity="0.85"/>
<line x1="559.6" y1="150.9" x2="559.6" y2="209.7" stroke="#111" stroke-width="1.3" opacity="0.85"/>
<line x1="553.1" y1="150.9" x2="566.1" y2="150.9" stroke="#111" stroke-width="1.9" opacity="0.85"/>
<line x1="553.1" y1="209.7" x2="566.1" y2="209.7" stroke="#111" stroke-width="1.9" opacity="0.85"/>
<path d="M134.6,432.9 C138.3,431.8 149.5,428.1 156.9,426.6 C164.4,425.2 171.9,425.7 179.3,424 C186.8,422.4 194.2,419.5 201.7,416.6 C209.1,413.7 216.6,409.5 224.1,406.6 C231.5,403.7 239,401.7 246.4,399.2 C253.9,396.6 261.3,394.5 268.8,391.3 C276.2,388.1 283.7,383.9 291.2,380.1 C298.6,376.4 306.1,373 313.5,368.8 C321,364.7 328.4,361.4 335.9,355.2 C343.4,349 350.8,340.8 358.3,331.6 C365.7,322.5 373.2,309.1 380.6,300.1 C388.1,291.1 395.6,284.3 403,277.5 C410.5,270.7 417.9,265.1 425.4,259.5 C432.8,253.9 440.3,248.1 447.8,244.1 C455.2,240 462.7,239 470.1,235.1 C477.6,231.2 485,225.6 492.5,220.6 C499.9,215.7 507.4,211 514.9,205.2 C522.3,199.5 529.8,190.3 537.2,186.2 C544.7,182 555.9,181.3 559.6,180.3" fill="none" stroke="#111" stroke-width="1.7" stroke-linejoin="round" stroke-linecap="round" />
<circle cx="134.6" cy="432.9" r="1.8" fill="#111"/>
<circle cx="156.9" cy="426.6" r="1.8" fill="#111"/>
<circle cx="179.3" cy="424" r="1.8" fill="#111"/>
<circle cx="201.7" cy="416.6" r="1.8" fill="#111"/>
<circle cx="224.1" cy="406.6" r="1.8" fill="#111"/>
<circle cx="246.4" cy="399.2" r="1.8" fill="#111"/>
<circle cx="268.8" cy="391.3" r="1.8" fill="#111"/>
<circle cx="291.2" cy="380.1" r="1.8" fill="#111"/>
<circle cx="313.5" cy="368.8" r="1.8" fill="#111"/>
<circle cx="335.9" cy="355.2" r="1.8" fill="#111"/>
<circle cx="358.3" cy="331.6" r="1.8" fill="#111"/>
<circle cx="380.6" cy="300.1" r="1.8" fill="#111"/>
<circle cx="403" cy="277.5" r="1.8" fill="#111"/>
<circle cx="425.4" cy="259.5" r="1.8" fill="#111"/>
<circle cx="447.8" cy="244.1" r="1.8" fill="#111"/>
<circle cx="470.1" cy="235.1" r="1.8" fill="#111"/>
<circle cx="492.5" cy="220.6" r="1.8" fill="#111"/>
<circle cx="514.9" cy="205.2" r="1.8" fill="#111"/>
<circle cx="537.2" cy="186.2" r="1.8" fill="#111"/>
<circle cx="559.6" cy="180.3" r="1.8" fill="#111"/>
<line x1="176.5" y1="97.1" x2="189.5" y2="97.1" stroke="#111" stroke-width="1.6" />
<circle cx="183" cy="97.1" r="1.8" fill="#111"/>
<text x="194" y="101.1" font-size="11.5" font-weight="normal" fill="#222" text-anchor="start" textLength="38" lengthAdjust="spacingAndGlyphs" >Vehicle</text>
<line x1="176.5" y1="114.5" x2="189.5" y2="114.5" stroke="#3d5a99" stroke-width="1.6" />
<circle cx="183" cy="114.5" r="1.8" fill="#3d5a99"/>
<text x="194" y="118.5" font-size="11.5" font-weight="normal" fill="#222" text-anchor="start" textLength="64" lengthAdjust="spacingAndGlyphs" >Doxorubicin</text>
<line x1="176.5" y1="131.9" x2="189.5" y2="131.9" stroke="#d9302c" stroke-width="1.6" />
<circle cx="183" cy="131.9" r="1.8" fill="#d9302c"/>
<text x="194" y="135.9" font-size="11.5" font-weight="normal" fill="#222" text-anchor="start" textLength="58" lengthAdjust="spacingAndGlyphs" >Capmatinib</text>
<line x1="176.5" y1="149.3" x2="189.5" y2="149.3" stroke="#c9aa70" stroke-width="1.6" />
<circle cx="183" cy="149.3" r="1.8" fill="#c9aa70"/>
<text x="194" y="153.3" font-size="11.5" font-weight="normal" fill="#222" text-anchor="start" textLength="54" lengthAdjust="spacingAndGlyphs" >Trametinib</text>
<line x1="176.5" y1="166.7" x2="189.5" y2="166.7" stroke="#6a9a78" stroke-width="1.6" />
<circle cx="183" cy="166.7" r="1.8" fill="#6a9a78"/>
<text x="194" y="170.7" font-size="11.5" font-weight="normal" fill="#222" text-anchor="start" textLength="66" lengthAdjust="spacingAndGlyphs" >Tram + Doxo</text>
<line x1="176.5" y1="184.1" x2="189.5" y2="184.1" stroke="#d9a880" stroke-width="1.6" />
<circle cx="183" cy="184.1" r="1.8" fill="#d9a880"/>
<text x="194" y="188.1" font-size="11.5" font-weight="normal" fill="#222" text-anchor="start" textLength="62" lengthAdjust="spacingAndGlyphs" >Cap + Doxo</text>
<line x1="176.5" y1="201.5" x2="189.5" y2="201.5" stroke="#5b2b6e" stroke-width="1.6" />
<circle cx="183" cy="201.5" r="1.8" fill="#5b2b6e"/>
<text x="194" y="205.5" font-size="11.5" font-weight="normal" fill="#222" text-anchor="start" textLength="62" lengthAdjust="spacingAndGlyphs" >Cap + Tram</text>
<line x1="176.5" y1="218.9" x2="189.5" y2="218.9" stroke="#9ab8c4" stroke-width="1.6" />
<circle cx="183" cy="218.9" r="1.8" fill="#9ab8c4"/>
<text x="194" y="222.9" font-size="11.5" font-weight="normal" fill="#222" text-anchor="start" textLength="107" lengthAdjust="spacingAndGlyphs" >Cap + Tram + Doxo</text>
<text x="584.2" y="72.3" font-size="38" font-weight="bold" fill="#000" text-anchor="start" >E</text>
<line x1="1059.3" y1="50" x2="1059.3" y2="452" stroke="#aaa" stroke-width="1.6" stroke-dasharray="14,6"/>
<line x1="907.4" y1="50.5" x2="907.4" y2="453.5" stroke="#111" stroke-width="2.4" />
<line x1="906.2" y1="452.8" x2="1186" y2="452.8" stroke="#111" stroke-width="2.4" />
<line x1="981.4" y1="452.8" x2="981.4" y2="456" stroke="#111" stroke-width="1.6" />
<line x1="1059.3" y1="452.8" x2="1059.3" y2="456" stroke="#111" stroke-width="1.6" />
<line x1="1136.2" y1="452.8" x2="1136.2" y2="456" stroke="#111" stroke-width="1.6" />
<text x="981.4" y="471.5" font-size="11.5" font-weight="normal" fill="#555" text-anchor="middle" textLength="10" lengthAdjust="spacingAndGlyphs" >-1</text>
<text x="1059.3" y="471.5" font-size="11.5" font-weight="normal" fill="#555" text-anchor="middle" textLength="6.5" lengthAdjust="spacingAndGlyphs" >0</text>
<text x="1136.2" y="471.5" font-size="11.5" font-weight="normal" fill="#555" text-anchor="middle" textLength="5" lengthAdjust="spacingAndGlyphs" >1</text>
<text x="1049" y="492" font-size="12.5" font-weight="bold" fill="#333" text-anchor="middle" textLength="170" lengthAdjust="spacingAndGlyphs" >Growth Rate Difference</text>
<text x="1048.8" y="518" font-size="12.5" font-weight="bold" fill="#333" text-anchor="middle" textLength="81" lengthAdjust="spacingAndGlyphs">(mm<tspan font-size="8" dy="-5">3</tspan><tspan dy="5">/Day)</tspan></text>
<line x1="904.2" y1="62.5" x2="907.4" y2="62.5" stroke="#111" stroke-width="1.6" />
<text x="899.5" y="67.9" font-size="14.5" font-weight="bold" fill="#505050" text-anchor="end" textLength="231.7" lengthAdjust="spacingAndGlyphs" >Cap + Tram + Dox v Cap + Tram</text>
<line x1="999.8" y1="62.5" x2="1097.9" y2="62.5" stroke="#111" stroke-width="3.2" />
<line x1="999.8" y1="59.5" x2="999.8" y2="65.5" stroke="#111" stroke-width="2.2" />
<line x1="1097.9" y1="59.5" x2="1097.9" y2="65.5" stroke="#111" stroke-width="2.2" />
<circle cx="1048.2" cy="62.5" r="2.8" fill="#111"/>
<line x1="904.2" y1="81.5" x2="907.4" y2="81.5" stroke="#111" stroke-width="1.6" />
<text x="899.5" y="86.9" font-size="14.5" font-weight="bold" fill="#505050" text-anchor="end" textLength="224.1" lengthAdjust="spacingAndGlyphs" >Cap + Tram + Dox v Cap + Dox</text>
<line x1="970" y1="81.5" x2="1066.9" y2="81.5" stroke="#111" stroke-width="1.8" />
<line x1="970" y1="78.5" x2="970" y2="84.5" stroke="#111" stroke-width="2.2" />
<line x1="1066.9" y1="78.5" x2="1066.9" y2="84.5" stroke="#111" stroke-width="2.2" />
<circle cx="1018.5" cy="81.5" r="2.4" fill="#111"/>
<line x1="904.2" y1="100.5" x2="907.4" y2="100.5" stroke="#111" stroke-width="1.6" />
<text x="899.5" y="105.9" font-size="14.5" font-weight="bold" fill="#505050" text-anchor="end" textLength="231.7" lengthAdjust="spacingAndGlyphs" >Cap + Tram + Dox v Tram + Dox</text>
<line x1="966.4" y1="100.5" x2="1062.8" y2="100.5" stroke="#111" stroke-width="3.2" />
<line x1="966.4" y1="97.5" x2="966.4" y2="103.5" stroke="#111" stroke-width="2.2" />
<line x1="1062.8" y1="97.5" x2="1062.8" y2="103.5" stroke="#111" stroke-width="2.2" />
<circle cx="1014.4" cy="100.5" r="2.8" fill="#111"/>
<line x1="904.2" y1="119.5" x2="907.4" y2="119.5" stroke="#111" stroke-width="1.6" />
<text x="899.5" y="124.9" font-size="14.5" font-weight="bold" fill="#505050" text-anchor="end" textLength="176.9" lengthAdjust="spacingAndGlyphs" >Cap + Tram v Cap + Dox</text>
<line x1="981.2" y1="119.5" x2="1078.5" y2="119.5" stroke="#111" stroke-width="1.8" />
<line x1="981.2" y1="116.5" x2="981.2" y2="122.5" stroke="#111" stroke-width="2.2" />
<line x1="1078.5" y1="116.5" x2="1078.5" y2="122.5" stroke="#111" stroke-width="2.2" />
<circle cx="1030" cy="119.5" r="2.4" fill="#111"/>
<line x1="904.2" y1="138.5" x2="907.4" y2="138.5" stroke="#111" stroke-width="1.6" />
<text x="899.5" y="143.9" font-size="14.5" font-weight="bold" fill="#505050" text-anchor="end" textLength="184.7" lengthAdjust="spacingAndGlyphs" >Cap + Tram v Tram + Dox</text>
<line x1="978" y1="138.5" x2="1074.1" y2="138.5" stroke="#111" stroke-width="3.0" />
<line x1="978" y1="135.5" x2="978" y2="141.5" stroke="#111" stroke-width="2.2" />
<line x1="1074.1" y1="135.5" x2="1074.1" y2="141.5" stroke="#111" stroke-width="2.2" />
<circle cx="1026" cy="138.5" r="2.8" fill="#111"/>
<line x1="904.2" y1="157.4" x2="907.4" y2="157.4" stroke="#111" stroke-width="1.6" />
<text x="899.5" y="162.8" font-size="14.5" font-weight="bold" fill="#505050" text-anchor="end" textLength="176.9" lengthAdjust="spacingAndGlyphs" >Cap + Dox v Tram + Dox</text>
<line x1="1006.6" y1="157.4" x2="1104.4" y2="157.4" stroke="#111" stroke-width="1.8" />
<line x1="1006.6" y1="154.4" x2="1006.6" y2="160.4" stroke="#111" stroke-width="2.2" />
<line x1="1104.4" y1="154.4" x2="1104.4" y2="160.4" stroke="#111" stroke-width="2.2" />
<circle cx="1055" cy="157.4" r="2.4" fill="#111"/>
<line x1="904.2" y1="176.4" x2="907.4" y2="176.4" stroke="#111" stroke-width="1.6" />
<text x="899.5" y="181.8" font-size="14.5" font-weight="bold" fill="#505050" text-anchor="end" textLength="130.1" lengthAdjust="spacingAndGlyphs" >Cap + Tram v Cap</text>
<line x1="976.3" y1="176.4" x2="1073" y2="176.4" stroke="#111" stroke-width="3.0" />
<line x1="976.3" y1="173.4" x2="976.3" y2="179.4" stroke="#111" stroke-width="2.2" />
<line x1="1073" y1="173.4" x2="1073" y2="179.4" stroke="#111" stroke-width="2.2" />
<circle cx="1024.5" cy="176.4" r="2.8" fill="#111"/>
<line x1="904.2" y1="195.4" x2="907.4" y2="195.4" stroke="#111" stroke-width="1.6" />
<text x="899.5" y="200.8" font-size="14.5" font-weight="bold" fill="#505050" text-anchor="end" textLength="137.2" lengthAdjust="spacingAndGlyphs" >Cap + Tram v Tram</text>
<line x1="968.4" y1="195.4" x2="1065.9" y2="195.4" stroke="#111" stroke-width="2.4" />
<line x1="968.4" y1="192.4" x2="968.4" y2="198.4" stroke="#111" stroke-width="2.2" />
<line x1="1065.9" y1="192.4" x2="1065.9" y2="198.4" stroke="#111" stroke-width="2.2" />
<circle cx="1017.3" cy="195.4" r="2.4" fill="#111"/>
<line x1="904.2" y1="214.4" x2="907.4" y2="214.4" stroke="#111" stroke-width="1.6" />
<text x="899.5" y="219.8" font-size="14.5" font-weight="bold" fill="#505050" text-anchor="end" textLength="130.2" lengthAdjust="spacingAndGlyphs" >Cap + Tram v Dox</text>
<line x1="920" y1="214.4" x2="1019.9" y2="214.4" stroke="#e8201c" stroke-width="3.0" />
<line x1="920" y1="211.4" x2="920" y2="217.4" stroke="#e8201c" stroke-width="2.2" />
<line x1="1019.9" y1="211.4" x2="1019.9" y2="217.4" stroke="#e8201c" stroke-width="2.2" />
<circle cx="970.8" cy="214.4" r="2.8" fill="#e8201c"/>
<line x1="904.2" y1="233.4" x2="907.4" y2="233.4" stroke="#111" stroke-width="1.6" />
<text x="899.5" y="238.8" font-size="14.5" font-weight="bold" fill="#505050" text-anchor="end" textLength="130.2" lengthAdjust="spacingAndGlyphs" >Cap + Dox v Tram</text>
<line x1="1004.7" y1="233.4" x2="1102.2" y2="233.4" stroke="#111" stroke-width="3.0" />
<line x1="1004.7" y1="230.4" x2="1004.7" y2="236.4" stroke="#111" stroke-width="2.2" />
<line x1="1102.2" y1="230.4" x2="1102.2" y2="236.4" stroke="#111" stroke-width="2.2" />
<circle cx="1053.6" cy="233.4" r="2.8" fill="#111"/>
<line x1="904.2" y1="252.4" x2="907.4" y2="252.4" stroke="#111" stroke-width="1.6" />
<text x="899.5" y="257.8" font-size="14.5" font-weight="bold" fill="#505050" text-anchor="end" textLength="122.2" lengthAdjust="spacingAndGlyphs" >Cap + Dox v Cap</text>
<line x1="998.6" y1="252.4" x2="1096.2" y2="252.4" stroke="#111" stroke-width="3.0" />
<line x1="998.6" y1="249.4" x2="998.6" y2="255.4" stroke="#111" stroke-width="2.2" />
<line x1="1096.2" y1="249.4" x2="1096.2" y2="255.4" stroke="#111" stroke-width="2.2" />
<circle cx="1047" cy="252.4" r="2.8" fill="#111"/>
<line x1="904.2" y1="271.4" x2="907.4" y2="271.4" stroke="#111" stroke-width="1.6" />
<text x="899.5" y="276.8" font-size="14.5" font-weight="bold" fill="#505050" text-anchor="end" textLength="122.2" lengthAdjust="spacingAndGlyphs" >Cap + Dox v Dox</text>
<line x1="951.9" y1="271.4" x2="1049.5" y2="271.4" stroke="#e8201c" stroke-width="3.0" />
<line x1="951.9" y1="268.4" x2="951.9" y2="274.4" stroke="#e8201c" stroke-width="2.2" />
<line x1="1049.5" y1="268.4" x2="1049.5" y2="274.4" stroke="#e8201c" stroke-width="2.2" />
<circle cx="1000.3" cy="271.4" r="2.8" fill="#e8201c"/>
<line x1="904.2" y1="290.4" x2="907.4" y2="290.4" stroke="#111" stroke-width="1.6" />
<text x="899.5" y="295.8" font-size="14.5" font-weight="bold" fill="#505050" text-anchor="end" textLength="129.3" lengthAdjust="spacingAndGlyphs" >Tram + Dox v Cap</text>
<line x1="1002.2" y1="290.4" x2="1099.8" y2="290.4" stroke="#111" stroke-width="2.4" />
<line x1="1002.2" y1="287.4" x2="1002.2" y2="293.4" stroke="#111" stroke-width="2.2" />
<line x1="1099.8" y1="287.4" x2="1099.8" y2="293.4" stroke="#111" stroke-width="2.2" />
<circle cx="1051.4" cy="290.4" r="2.4" fill="#111"/>
<line x1="904.2" y1="309.4" x2="907.4" y2="309.4" stroke="#111" stroke-width="1.6" />
<text x="899.5" y="314.8" font-size="14.5" font-weight="bold" fill="#505050" text-anchor="end" textLength="135.7" lengthAdjust="spacingAndGlyphs" >Tram + Dox v Tram</text>
<line x1="1009.5" y1="309.4" x2="1107.5" y2="309.4" stroke="#111" stroke-width="3.2" />
<line x1="1009.5" y1="306.4" x2="1009.5" y2="312.4" stroke="#111" stroke-width="2.2" />
<line x1="1107.5" y1="306.4" x2="1107.5" y2="312.4" stroke="#111" stroke-width="2.2" />
<circle cx="1058.4" cy="309.4" r="2.8" fill="#111"/>
<line x1="904.2" y1="328.4" x2="907.4" y2="328.4" stroke="#111" stroke-width="1.6" />
<text x="899.5" y="333.8" font-size="14.5" font-weight="bold" fill="#505050" text-anchor="end" textLength="129.3" lengthAdjust="spacingAndGlyphs" >Tram + Dox v Dox</text>
<line x1="955" y1="328.4" x2="1053.1" y2="328.4" stroke="#e8201c" stroke-width="2.2" />
<line x1="955" y1="325.4" x2="955" y2="331.4" stroke="#e8201c" stroke-width="2.2" />
<line x1="1053.1" y1="325.4" x2="1053.1" y2="331.4" stroke="#e8201c" stroke-width="2.2" />
<circle cx="1004.2" cy="328.4" r="2.4" fill="#e8201c"/>
<line x1="904.2" y1="347.3" x2="907.4" y2="347.3" stroke="#111" stroke-width="1.6" />
<text x="899.5" y="352.7" font-size="14.5" font-weight="bold" fill="#505050" text-anchor="end" textLength="81.8" lengthAdjust="spacingAndGlyphs" >Tram v Cap</text>
<line x1="1004" y1="347.3" x2="1101.5" y2="347.3" stroke="#111" stroke-width="3.2" />
<line x1="1004" y1="344.3" x2="1004" y2="350.3" stroke="#111" stroke-width="2.2" />
<line x1="1101.5" y1="344.3" x2="1101.5" y2="350.3" stroke="#111" stroke-width="2.2" />
<circle cx="1052.6" cy="347.3" r="2.8" fill="#111"/>
<line x1="904.2" y1="366.3" x2="907.4" y2="366.3" stroke="#111" stroke-width="1.6" />
<text x="899.5" y="371.7" font-size="14.5" font-weight="bold" fill="#505050" text-anchor="end" textLength="75.1" lengthAdjust="spacingAndGlyphs" >Cap v Dox</text>
<line x1="964.7" y1="366.3" x2="1062.8" y2="366.3" stroke="#111" stroke-width="1.8" />
<line x1="964.7" y1="363.3" x2="964.7" y2="369.3" stroke="#111" stroke-width="2.2" />
<line x1="1062.8" y1="363.3" x2="1062.8" y2="369.3" stroke="#111" stroke-width="2.2" />
<circle cx="1012.7" cy="366.3" r="2.4" fill="#111"/>
<line x1="904.2" y1="385.3" x2="907.4" y2="385.3" stroke="#111" stroke-width="1.6" />
<text x="899.5" y="390.7" font-size="14.5" font-weight="bold" fill="#505050" text-anchor="end" textLength="81.6" lengthAdjust="spacingAndGlyphs" >Tram v Dox</text>
<line x1="957" y1="385.3" x2="1054.8" y2="385.3" stroke="#e8201c" stroke-width="3.4" />
<line x1="957" y1="382.3" x2="957" y2="388.3" stroke="#e8201c" stroke-width="2.2" />
<line x1="1054.8" y1="382.3" x2="1054.8" y2="388.3" stroke="#e8201c" stroke-width="2.2" />
<circle cx="1005.4" cy="385.3" r="2.8" fill="#e8201c"/>
<line x1="904.2" y1="404.3" x2="907.4" y2="404.3" stroke="#111" stroke-width="1.6" />
<text x="899.5" y="409.7" font-size="14.5" font-weight="bold" fill="#505050" text-anchor="end" textLength="81.1" lengthAdjust="spacingAndGlyphs" >Veh v Tram</text>
<line x1="1075.6" y1="404.3" x2="1174.1" y2="404.3" stroke="#e8201c" stroke-width="1.8" />
<line x1="1075.6" y1="401.3" x2="1075.6" y2="407.3" stroke="#e8201c" stroke-width="2.2" />
<line x1="1174.1" y1="401.3" x2="1174.1" y2="407.3" stroke="#e8201c" stroke-width="2.2" />
<circle cx="1125.7" cy="404.3" r="2.4" fill="#e8201c"/>
<line x1="904.2" y1="423.3" x2="907.4" y2="423.3" stroke="#111" stroke-width="1.6" />
<text x="899.5" y="428.7" font-size="14.5" font-weight="bold" fill="#505050" text-anchor="end" textLength="73.2" lengthAdjust="spacingAndGlyphs" >Veh v Cap</text>
<line x1="1070" y1="423.3" x2="1168.1" y2="423.3" stroke="#e8201c" stroke-width="3.6" />
<line x1="1070" y1="420.3" x2="1070" y2="426.3" stroke="#e8201c" stroke-width="2.2" />
<line x1="1168.1" y1="420.3" x2="1168.1" y2="426.3" stroke="#e8201c" stroke-width="2.2" />
<circle cx="1119.2" cy="423.3" r="2.8" fill="#e8201c"/>
<line x1="904.2" y1="442.3" x2="907.4" y2="442.3" stroke="#111" stroke-width="1.6" />
<text x="899.5" y="447.7" font-size="14.5" font-weight="bold" fill="#505050" text-anchor="end" textLength="73.2" lengthAdjust="spacingAndGlyphs" >Veh v Dox</text>
<line x1="1024" y1="442.3" x2="1121.6" y2="442.3" stroke="#111" stroke-width="1.8" />
<line x1="1024" y1="439.3" x2="1024" y2="445.3" stroke="#111" stroke-width="2.2" />
<line x1="1121.6" y1="439.3" x2="1121.6" y2="445.3" stroke="#111" stroke-width="2.2" />
<circle cx="1072.4" cy="442.3" r="2.4" fill="#111"/>
<text x="53.8" y="525.6" font-size="37.5" font-weight="bold" fill="#000">F</text>
<text x="262.8" y="554.8" font-size="16.5" font-weight="bold" fill="#222" text-anchor="middle" textLength="109" lengthAdjust="spacingAndGlyphs">Doxorubicin</text>
<text x="160.9" y="601.5" font-size="24" fill="#222" textLength="144" lengthAdjust="spacingAndGlyphs">SD=997 mm<tspan font-size="14" dy="-9">3</tspan></text>
<g fill="none" stroke-linejoin="round" stroke-linecap="round" transform="translate(138.4,847.5) scale(12.5,-0.095)">
<polyline points="2.0,465 3.2,495 3.35,530 3.94,658 4.94,853 5.42,967 6.16,1082 7.03,1224 7.64,1339 8.18,1419 8.65,1516 9.26,1596 9.9,1715" stroke="#111" stroke-width="2.2" vector-effect="non-scaling-stroke"/>
<polyline points="0.1,145 1.07,220 2.09,282 3.03,344 3.82,400 4.41,507 4.94,604 5.42,702 5.96,773 6.76,853 7.64,923 8.18,976 8.65,1056 9.05,1162 9.32,1250 9.66,1348 10.06,1481 10.33,1569 10.6,1658 10.89,1732 11.42,1942 12.28,2166 12.94,2370" stroke="#111" stroke-width="2.2" vector-effect="non-scaling-stroke"/>
<polyline points="0.1,140 1.5,200 3.0,300 4.19,427 5.1,475 5.7,523 6.31,602 6.91,682 7.64,762 8.06,873 8.51,1038 9.05,1056 9.99,1162 10.66,1304 11.2,1437 11.8,1619 12.3,1720 12.94,1855" stroke="#111" stroke-width="2.2" vector-effect="non-scaling-stroke"/>
<polyline points="3.2,495 4.39,503 6.07,523 7.03,547 7.52,618 8.43,690 9.15,770 9.45,841 10.0,921 10.4,1012 10.59,1035 11.35,1135 12.1,1254 13.01,1433 13.35,1564 14.21,1872 14.6,2124 14.96,2240" stroke="#111" stroke-width="2.2" vector-effect="non-scaling-stroke"/>
<polyline points="4.61,510 5.4,551 6.18,603 6.58,644 6.97,696 7.36,737 7.76,789 8.23,872 8.93,944" stroke="#111" stroke-width="2.2" vector-effect="non-scaling-stroke"/>
<polyline points="2.09,251 3.43,282 4.61,313 5.79,344 6.79,443 7.94,500 8.18,563 9.03,626 10.24,706 10.85,754 11.45,786 11.94,833 12.1,906 12.48,1025 13.24,1154 14.0,1274 14.52,1373 15.13,1453 15.51,1553 16.3,1640 16.7,1748 17.4,1860 18.2,2100 19.0,2420 19.88,2760" stroke="#111" stroke-width="2.2" vector-effect="non-scaling-stroke"/>
<polyline points="3.2,150 5.0,230 6.79,300 8.43,380 10.0,480 11.5,620 12.45,800 13.3,900 14.08,977 14.8,1060 15.4,1170 16.03,1304 16.34,1453 16.8,1620 17.15,1800 17.63,2068 18.28,2348 18.92,2620" stroke="#111" stroke-width="2.2" vector-effect="non-scaling-stroke"/>
<polyline points="3.2,170 4.8,220 6.31,280 7.64,340 8.43,364 9.33,403 10.24,443 10.85,475 11.35,530 12.1,617 13.09,717 13.99,836 14.75,926 15.28,995 15.89,1065 16.49,1135 17.02,1184 17.17,1254 17.32,1403 17.5,1460 17.95,1662 18.38,1872 18.92,2068" stroke="#111" stroke-width="2.2" vector-effect="non-scaling-stroke"/>
<polyline points="0.1,137 1.0,164 1.9,184 2.9,193 4.5,230 6.0,280 7.5,330 9.0,380 10.5,440 12.19,523 13.5,620 14.5,740 15.28,806 15.89,856 16.64,906 17.4,955 18.15,1005 18.91,1055 19.97,1095" stroke="#111" stroke-width="2.2" vector-effect="non-scaling-stroke"/>
<polyline points="3.2,133 4.19,157 4.8,204 6.31,260 7.22,284 8.12,300 9.5,340 10.97,372 12.19,427 13.46,500 14.37,547 15.89,607 17.02,657 18.15,717 18.53,756 19.29,836 19.97,876" stroke="#111" stroke-width="2.2" vector-effect="non-scaling-stroke"/>
<polyline points="3,250 4.0,316 5.0,400 6.0,524 7.0,611 8.0,751 9.0,894 10.0,986 11.0,1129 12.0,1235 13.0,1431 14.0,1629 15.0,1891 16.0,2220 17.0,2610 17.91,2851" stroke="#3f67b5" stroke-width="2.1" vector-effect="non-scaling-stroke"/>
<polyline points="3,300 4.0,388 5.0,513 6.0,649 7.0,818 8.0,984 9.0,1194 10.0,1477 11.0,1626 12.0,1896 13.0,2020 14.0,2164 14.9,2323" stroke="#3f67b5" stroke-width="2.1" vector-effect="non-scaling-stroke"/>
<polyline points="3,200 4.0,270 5.0,376 6.0,462 7.0,535 8.0,653 9.0,756 10.0,861 11.0,1002 12.0,1123 13.0,1289 14.0,1487 15.0,1728 15.9,1912" stroke="#3f67b5" stroke-width="2.1" vector-effect="non-scaling-stroke"/>
<polyline points="3,220 4.0,278 5.0,351 6.0,452 7.0,534 8.0,630 9.0,768 10.0,909 11.0,978 12.0,1094 13.0,1202 14.0,1343 15.0,1464 16.0,1587 17.0,1841 18.0,1983 19.0,2267 19.9,2533" stroke="#3f67b5" stroke-width="2.1" vector-effect="non-scaling-stroke"/>
<polyline points="3,200 4.0,259 5.0,322 6.0,420 7.0,489 8.0,603 9.0,722 10.0,853 11.0,963 12.0,1041 13.0,1180 14.0,1306 15.0,1434 16.0,1565 17.0,1752 18.0,1968 19.0,2207 19.9,2440" stroke="#3f67b5" stroke-width="2.1" vector-effect="non-scaling-stroke"/>
<polyline points="3,250 4.0,384 5.0,567 6.0,752 7.0,834 8.0,944 9.0,1015 10.0,1053 11.0,1124 12.0,1207 13.0,1245 14.0,1358 15.0,1428 16.0,1507 17.0,1584 18.0,1730 19.0,1731 19.86,1795" stroke="#3f67b5" stroke-width="2.1" vector-effect="non-scaling-stroke"/>
<polyline points="2.87,352 3.0,354 4.0,407 5.0,474 6.0,516 7.0,595 8.0,659 9.0,708 10.0,747 11.0,790 12.0,804 13.0,849 14.0,891 15.0,990 16.0,1075 17.0,1116 18.0,1186 19.0,1262 19.87,1346" stroke="#3f67b5" stroke-width="2.1" vector-effect="non-scaling-stroke"/>
<polyline points="3,300 4.0,382 5.0,500 6.0,594 7.0,692 8.0,787 9.0,927 10.0,1090 11.0,1327 12.0,1537 12.72,1570" stroke="#3f67b5" stroke-width="2.1" vector-effect="non-scaling-stroke"/>
<polyline points="2.87,124 3.0,128 4.0,154 5.0,188 6.0,229 7.0,234 8.0,257 9.0,269 10.0,284 11.0,300 12.0,319 13.0,345 14.0,368 15.0,403 16.0,417 17.0,444 18.0,479 18.92,518" stroke="#3f67b5" stroke-width="2.1" vector-effect="non-scaling-stroke"/>
<polyline points="3,280 4.0,339 5.0,422 6.0,513 7.0,583 8.0,629 9.0,671 10.0,703 11.0,698 12.0,736 13.0,738 14,760" stroke="#3f67b5" stroke-width="2.1" vector-effect="non-scaling-stroke"/>
<polyline points="3,180 4.0,235 5.0,313 6.0,417 7.0,517 8.0,633 9.0,814 10.0,961 11.0,1098 12.0,1218 13,1350" stroke="#3f67b5" stroke-width="2.1" vector-effect="non-scaling-stroke"/>
<polyline points="2.5,150 3.0,171 4.0,232 5.0,317 6.0,390 7.0,495 8.0,590 9.0,676 10.0,818 11.0,905 11.5,960" stroke="#3f67b5" stroke-width="2.1" vector-effect="non-scaling-stroke"/>
<polyline points="3,330 4.0,437 5.0,601 6.0,709 7.0,881 8.0,1030 9.0,1171 10.0,1260 10.5,1300" stroke="#3f67b5" stroke-width="2.1" vector-effect="non-scaling-stroke"/>
<polyline points="3,160 4.0,196 5.0,245 6.0,301 7.0,385 8.0,430 9.0,492 10.0,544 11.0,611 12.0,685 13.0,753 14.0,814 15.0,885 16,950" stroke="#3f67b5" stroke-width="2.1" vector-effect="non-scaling-stroke"/>
</g>
<line x1="137.4" y1="847.5" x2="388.4" y2="847.5" stroke="#111" stroke-width="3" />
<line x1="138.4" y1="847.5" x2="138.4" y2="851.5" stroke="#111" stroke-width="2.4" />
<line x1="200.9" y1="847.5" x2="200.9" y2="851.5" stroke="#111" stroke-width="2.4" />
<line x1="263.4" y1="847.5" x2="263.4" y2="851.5" stroke="#111" stroke-width="2.4" />
<line x1="325.9" y1="847.5" x2="325.9" y2="851.5" stroke="#111" stroke-width="2.4" />
<line x1="388.4" y1="847.5" x2="388.4" y2="851.5" stroke="#111" stroke-width="2.4" />
<line x1="138.4" y1="572" x2="138.4" y2="848.5" stroke="#111" stroke-width="2.6" />
<line x1="133.4" y1="752.5" x2="138.4" y2="752.5" stroke="#111" stroke-width="2" />
<line x1="133.4" y1="657.5" x2="138.4" y2="657.5" stroke="#111" stroke-width="2" />
<line x1="133.4" y1="847.5" x2="138.4" y2="847.5" stroke="#111" stroke-width="2" />
<text x="129.8" y="853.8" font-size="17" fill="#707070" text-anchor="end" textLength="10" lengthAdjust="spacingAndGlyphs">0</text>
<text x="129.8" y="758.8" font-size="17" fill="#707070" text-anchor="end" textLength="42" lengthAdjust="spacingAndGlyphs">1000</text>
<text x="129.8" y="663.8" font-size="17" fill="#707070" text-anchor="end" textLength="42" lengthAdjust="spacingAndGlyphs">2000</text>
<text x="139" y="868.8" font-size="17" fill="#707070" text-anchor="middle" textLength="10" lengthAdjust="spacingAndGlyphs">0</text>
<text x="389.2" y="868.8" font-size="17" fill="#707070" text-anchor="middle" textLength="20" lengthAdjust="spacingAndGlyphs">20</text>
<text x="556.2" y="554.8" font-size="16.5" font-weight="bold" fill="#222" text-anchor="middle" textLength="101.7" lengthAdjust="spacingAndGlyphs">Capmatinib</text>
<text x="428" y="601.5" font-size="24" fill="#222" textLength="144.6" lengthAdjust="spacingAndGlyphs">SD=830 mm<tspan font-size="14" dy="-9">3</tspan></text>
<g fill="none" stroke-linejoin="round" stroke-linecap="round" transform="translate(431.8,847.5) scale(12.5,-0.095)">
<polyline points="2.0,465 3.2,495 3.35,530 3.94,658 4.94,853 5.42,967 6.16,1082 7.03,1224 7.64,1339 8.18,1419 8.65,1516 9.26,1596 9.9,1715" stroke="#111" stroke-width="2.2" vector-effect="non-scaling-stroke"/>
<polyline points="0.1,145 1.07,220 2.09,282 3.03,344 3.82,400 4.41,507 4.94,604 5.42,702 5.96,773 6.76,853 7.64,923 8.18,976 8.65,1056 9.05,1162 9.32,1250 9.66,1348 10.06,1481 10.33,1569 10.6,1658 10.89,1732 11.42,1942 12.28,2166 12.94,2370" stroke="#111" stroke-width="2.2" vector-effect="non-scaling-stroke"/>
<polyline points="0.1,140 1.5,200 3.0,300 4.19,427 5.1,475 5.7,523 6.31,602 6.91,682 7.64,762 8.06,873 8.51,1038 9.05,1056 9.99,1162 10.66,1304 11.2,1437 11.8,1619 12.3,1720 12.94,1855" stroke="#111" stroke-width="2.2" vector-effect="non-scaling-stroke"/>
<polyline points="3.2,495 4.39,503 6.07,523 7.03,547 7.52,618 8.43,690 9.15,770 9.45,841 10.0,921 10.4,1012 10.59,1035 11.35,1135 12.1,1254 13.01,1433 13.35,1564 14.21,1872 14.6,2124 14.96,2240" stroke="#111" stroke-width="2.2" vector-effect="non-scaling-stroke"/>
<polyline points="4.61,510 5.4,551 6.18,603 6.58,644 6.97,696 7.36,737 7.76,789 8.23,872 8.93,944" stroke="#111" stroke-width="2.2" vector-effect="non-scaling-stroke"/>
<polyline points="2.09,251 3.43,282 4.61,313 5.79,344 6.79,443 7.94,500 8.18,563 9.03,626 10.24,706 10.85,754 11.45,786 11.94,833 12.1,906 12.48,1025 13.24,1154 14.0,1274 14.52,1373 15.13,1453 15.51,1553 16.3,1640 16.7,1748 17.4,1860 18.2,2100 19.0,2420 19.88,2760" stroke="#111" stroke-width="2.2" vector-effect="non-scaling-stroke"/>
<polyline points="3.2,150 5.0,230 6.79,300 8.43,380 10.0,480 11.5,620 12.45,800 13.3,900 14.08,977 14.8,1060 15.4,1170 16.03,1304 16.34,1453 16.8,1620 17.15,1800 17.63,2068 18.28,2348 18.92,2620" stroke="#111" stroke-width="2.2" vector-effect="non-scaling-stroke"/>
<polyline points="3.2,170 4.8,220 6.31,280 7.64,340 8.43,364 9.33,403 10.24,443 10.85,475 11.35,530 12.1,617 13.09,717 13.99,836 14.75,926 15.28,995 15.89,1065 16.49,1135 17.02,1184 17.17,1254 17.32,1403 17.5,1460 17.95,1662 18.38,1872 18.92,2068" stroke="#111" stroke-width="2.2" vector-effect="non-scaling-stroke"/>
<polyline points="0.1,137 1.0,164 1.9,184 2.9,193 4.5,230 6.0,280 7.5,330 9.0,380 10.5,440 12.19,523 13.5,620 14.5,740 15.28,806 15.89,856 16.64,906 17.4,955 18.15,1005 18.91,1055 19.97,1095" stroke="#111" stroke-width="2.2" vector-effect="non-scaling-stroke"/>
<polyline points="3.2,133 4.19,157 4.8,204 6.31,260 7.22,284 8.12,300 9.5,340 10.97,372 12.19,427 13.46,500 14.37,547 15.89,607 17.02,657 18.15,717 18.53,756 19.29,836 19.97,876" stroke="#111" stroke-width="2.2" vector-effect="non-scaling-stroke"/>
<polyline points="2,300 3.0,356 4.0,415 5.0,473 6.0,545 7.0,613 8.0,684 9.0,748 10.0,829 11.0,906 12.0,1014 13.0,1144 14.0,1244 15.0,1424 16.0,1602 17.0,1808 18.0,2032 19.0,2308 19.9,2625" stroke="#e3221c" stroke-width="2.1" vector-effect="non-scaling-stroke"/>
<polyline points="2,250 3.0,293 4.0,348 5.0,414 6.0,505 7.0,612 8.0,746 9.0,897 10.0,1106 11.0,1249 12.0,1309 13.0,1466 14.0,1619 15.0,1755 16.0,1906 17.0,2042 17.7,2166" stroke="#e3221c" stroke-width="2.1" vector-effect="non-scaling-stroke"/>
<polyline points="2,200 3.0,237 4.0,295 5.0,347 6.0,425 7.0,513 8.0,597 9.0,657 10.0,743 11.0,809 12.0,868 13.0,955 14.0,1070 15.0,1247 16.0,1381 17.0,1468 18.0,1670 19.0,1872 19.9,2013" stroke="#e3221c" stroke-width="2.1" vector-effect="non-scaling-stroke"/>
<polyline points="2,350 3.0,400 4.0,447 5.0,506 6.0,549 7.0,605 8.0,691 9.0,740 10.0,801 11.0,869 12.0,900 13.0,978 14.0,1037 15.0,1068 16.0,1138 17.0,1220 18.0,1303 19.0,1416 19.9,1493" stroke="#e3221c" stroke-width="2.1" vector-effect="non-scaling-stroke"/>
<polyline points="3,200 4.0,245 5.0,306 6.0,373 7.0,435 8.0,474 9.0,534 10.0,603 11.0,658 12.0,690 13.0,760 14.0,800 15.0,856 16.0,913 17.0,951 18.0,1089 19.0,1193 19.9,1325" stroke="#e3221c" stroke-width="2.1" vector-effect="non-scaling-stroke"/>
<polyline points="3,250 4.0,290 5.0,359 6.0,413 7.0,468 8.0,528 9.0,584 10.0,644 11.0,698 12.0,750 13.0,813 14.0,843 15.0,911 16.0,946 17.0,1000 18.0,1092 19.0,1172 19.9,1264" stroke="#e3221c" stroke-width="2.1" vector-effect="non-scaling-stroke"/>
<polyline points="2,300 3.0,339 4.0,386 5.0,439 6.0,466 7.0,511 8.0,552 9.0,600 10.0,638 11.0,663 12.0,701 13.0,725 14.0,769 15.0,788 16.0,825 17.0,860 18.0,863 18.9,904" stroke="#e3221c" stroke-width="2.1" vector-effect="non-scaling-stroke"/>
<polyline points="2.06,149 3.0,165 4.0,188 5.0,208 6.0,224 7.0,243 8.0,267 9.0,283 10.0,309 11.0,330 12.0,359 13.0,381 14.0,404 15.0,458 16.0,555 17.0,613 18.0,639 19.0,708 19.92,739" stroke="#e3221c" stroke-width="2.1" vector-effect="non-scaling-stroke"/>
<polyline points="2.06,377 3.0,422 4.0,448 5.0,504 6.0,522 7.0,558 8.0,604 9.0,619 10.0,618 11.0,647 12.0,675 13.0,695 14.0,716 15.0,734 16.0,763 17.0,749 18.0,808 19.0,848 19.92,894" stroke="#e3221c" stroke-width="2.1" vector-effect="non-scaling-stroke"/>
<polyline points="3,150 4.0,180 5.0,225 6.0,282 7.0,321 8.0,359 9.0,430 10.0,466 11.0,514 12.0,538 13.0,593 14.0,640 15.0,725 16.0,771 17.0,826 18.0,905 19.0,1001 19.9,1050" stroke="#e3221c" stroke-width="2.1" vector-effect="non-scaling-stroke"/>
<polyline points="2,440 3.0,504 4.0,553 5.0,624 6.0,735 7.0,808 8.0,909 9.0,975 10.0,1076 11.0,1209 11.5,1250" stroke="#e3221c" stroke-width="2.1" vector-effect="non-scaling-stroke"/>
<polyline points="3,180 4.0,219 5.0,264 6.0,337 7.0,376 8.0,430 9.0,470 10.0,514 11.0,520 12.0,570 13.0,578 14.0,594 15.0,622 16.0,648 17,650" stroke="#e3221c" stroke-width="2.1" vector-effect="non-scaling-stroke"/>
<polyline points="2,220 3.0,256 4.0,300 5.0,360 6.0,396 7.0,439 8.0,492 9.0,547 10.0,616 11.0,693 12.0,767 13.0,869 14.0,940 15.0,1022 16,1100" stroke="#e3221c" stroke-width="2.1" vector-effect="non-scaling-stroke"/>
<polyline points="3,130 4.0,151 5.0,179 6.0,207 7.0,247 8.0,271 9.0,312 10.0,343 11.0,374 12.0,410 13.0,454 14.0,471 15.0,528 16.0,544 17.0,572 18,600" stroke="#e3221c" stroke-width="2.1" vector-effect="non-scaling-stroke"/>
</g>
<line x1="430.8" y1="847.5" x2="681.8" y2="847.5" stroke="#111" stroke-width="3" />
<line x1="431.8" y1="847.5" x2="431.8" y2="851.5" stroke="#111" stroke-width="2.4" />
<line x1="494.3" y1="847.5" x2="494.3" y2="851.5" stroke="#111" stroke-width="2.4" />
<line x1="556.8" y1="847.5" x2="556.8" y2="851.5" stroke="#111" stroke-width="2.4" />
<line x1="619.3" y1="847.5" x2="619.3" y2="851.5" stroke="#111" stroke-width="2.4" />
<line x1="681.8" y1="847.5" x2="681.8" y2="851.5" stroke="#111" stroke-width="2.4" />
<text x="432.4" y="868.8" font-size="17" fill="#707070" text-anchor="middle" textLength="10" lengthAdjust="spacingAndGlyphs">0</text>
<text x="682.6" y="868.8" font-size="17" fill="#707070" text-anchor="middle" textLength="20" lengthAdjust="spacingAndGlyphs">20</text>
<text x="852" y="554.8" font-size="16.5" font-weight="bold" fill="#222" text-anchor="middle" textLength="94.4" lengthAdjust="spacingAndGlyphs">Trametinib</text>
<text x="746" y="601.5" font-size="24" fill="#222" textLength="145.6" lengthAdjust="spacingAndGlyphs">SD=821 mm<tspan font-size="14" dy="-9">3</tspan></text>
<g fill="none" stroke-linejoin="round" stroke-linecap="round" transform="translate(727.6,847.5) scale(12.5,-0.095)">
<polyline points="2.0,465 3.2,495 3.35,530 3.94,658 4.94,853 5.42,967 6.16,1082 7.03,1224 7.64,1339 8.18,1419 8.65,1516 9.26,1596 9.9,1715" stroke="#111" stroke-width="2.2" vector-effect="non-scaling-stroke"/>
<polyline points="0.1,145 1.07,220 2.09,282 3.03,344 3.82,400 4.41,507 4.94,604 5.42,702 5.96,773 6.76,853 7.64,923 8.18,976 8.65,1056 9.05,1162 9.32,1250 9.66,1348 10.06,1481 10.33,1569 10.6,1658 10.89,1732 11.42,1942 12.28,2166 12.94,2370" stroke="#111" stroke-width="2.2" vector-effect="non-scaling-stroke"/>
<polyline points="0.1,140 1.5,200 3.0,300 4.19,427 5.1,475 5.7,523 6.31,602 6.91,682 7.64,762 8.06,873 8.51,1038 9.05,1056 9.99,1162 10.66,1304 11.2,1437 11.8,1619 12.3,1720 12.94,1855" stroke="#111" stroke-width="2.2" vector-effect="non-scaling-stroke"/>
<polyline points="3.2,495 4.39,503 6.07,523 7.03,547 7.52,618 8.43,690 9.15,770 9.45,841 10.0,921 10.4,1012 10.59,1035 11.35,1135 12.1,1254 13.01,1433 13.35,1564 14.21,1872 14.6,2124 14.96,2240" stroke="#111" stroke-width="2.2" vector-effect="non-scaling-stroke"/>
<polyline points="4.61,510 5.4,551 6.18,603 6.58,644 6.97,696 7.36,737 7.76,789 8.23,872 8.93,944" stroke="#111" stroke-width="2.2" vector-effect="non-scaling-stroke"/>
<polyline points="2.09,251 3.43,282 4.61,313 5.79,344 6.79,443 7.94,500 8.18,563 9.03,626 10.24,706 10.85,754 11.45,786 11.94,833 12.1,906 12.48,1025 13.24,1154 14.0,1274 14.52,1373 15.13,1453 15.51,1553 16.3,1640 16.7,1748 17.4,1860 18.2,2100 19.0,2420 19.88,2760" stroke="#111" stroke-width="2.2" vector-effect="non-scaling-stroke"/>
<polyline points="3.2,150 5.0,230 6.79,300 8.43,380 10.0,480 11.5,620 12.45,800 13.3,900 14.08,977 14.8,1060 15.4,1170 16.03,1304 16.34,1453 16.8,1620 17.15,1800 17.63,2068 18.28,2348 18.92,2620" stroke="#111" stroke-width="2.2" vector-effect="non-scaling-stroke"/>
<polyline points="3.2,170 4.8,220 6.31,280 7.64,340 8.43,364 9.33,403 10.24,443 10.85,475 11.35,530 12.1,617 13.09,717 13.99,836 14.75,926 15.28,995 15.89,1065 16.49,1135 17.02,1184 17.17,1254 17.32,1403 17.5,1460 17.95,1662 18.38,1872 18.92,2068" stroke="#111" stroke-width="2.2" vector-effect="non-scaling-stroke"/>
<polyline points="0.1,137 1.0,164 1.9,184 2.9,193 4.5,230 6.0,280 7.5,330 9.0,380 10.5,440 12.19,523 13.5,620 14.5,740 15.28,806 15.89,856 16.64,906 17.4,955 18.15,1005 18.91,1055 19.97,1095" stroke="#111" stroke-width="2.2" vector-effect="non-scaling-stroke"/>
<polyline points="3.2,133 4.19,157 4.8,204 6.31,260 7.22,284 8.12,300 9.5,340 10.97,372 12.19,427 13.46,500 14.37,547 15.89,607 17.02,657 18.15,717 18.53,756 19.29,836 19.97,876" stroke="#111" stroke-width="2.2" vector-effect="non-scaling-stroke"/>
<polyline points="2.5,200 3.0,234 4.0,302 5.0,400 6.0,507 7.0,645 8.0,780 9.0,975 10.0,1124 11.0,1332 12.0,1570 13.0,1773 14.0,1973 15.0,2205 16.0,2446 16.93,2727" stroke="#c5bc38" stroke-width="2.1" vector-effect="non-scaling-stroke"/>
<polyline points="2.5,250 3.0,281 4.0,337 5.0,413 6.0,476 7.0,572 8.0,662 9.0,701 10.0,735 11.0,784 12.0,840 13.0,922 14.0,999 15.0,1121 16.0,1237 17.0,1437 18.0,1659 19.0,1884 19.89,2152" stroke="#c5bc38" stroke-width="2.1" vector-effect="non-scaling-stroke"/>
<polyline points="2.5,200 3.0,218 4.0,276 5.0,327 6.0,376 7.0,424 8.0,497 9.0,559 10.0,626 11.0,690 12.0,764 13.0,813 14.0,899 15.0,994 16.0,1141 17.0,1273 18.0,1456 19.0,1674 19.89,1878" stroke="#c5bc38" stroke-width="2.1" vector-effect="non-scaling-stroke"/>
<polyline points="2.5,180 3.0,195 4.0,241 5.0,290 6.0,332 7.0,374 8.0,425 9.0,482 10.0,530 11.0,595 12.0,674 13.0,709 14.0,800 15.0,894 16.0,976 17.0,1159 18.0,1340 19.0,1510 19.89,1683" stroke="#c5bc38" stroke-width="2.1" vector-effect="non-scaling-stroke"/>
<polyline points="2.5,220 3.0,238 4.0,273 5.0,301 6.0,350 7.0,383 8.0,425 9.0,464 10.0,508 11.0,545 12.0,601 13.0,646 14.0,690 15.0,719 16.0,760 17.0,845 18.0,969 18.95,1117" stroke="#c5bc38" stroke-width="2.1" vector-effect="non-scaling-stroke"/>
<polyline points="2.5,150 3.0,159 4.0,193 5.0,223 6.0,262 7.0,291 8.0,325 9.0,359 10.0,390 11.0,434 12.0,463 13.0,490 14.0,524 15.0,564 16.0,572 17.0,618 18.0,630 19.0,652 19.89,692" stroke="#c5bc38" stroke-width="2.1" vector-effect="non-scaling-stroke"/>
<polyline points="2.5,130 3.0,139 4.0,165 5.0,187 6.0,223 7.0,249 8.0,269 9.0,296 10.0,330 11.0,357 12.0,385 13.0,410 14.0,441 15.0,460 16.0,486 17.0,514 18.0,554 19.0,571 19.89,603" stroke="#c5bc38" stroke-width="2.1" vector-effect="non-scaling-stroke"/>
<polyline points="2.1,119 3.0,126 4.0,130 5.0,139 6.0,149 7.0,161 8.0,172 9.0,180 10.0,186 11.0,198 12.0,208 13.0,218 14.0,226 15.0,241 16.0,240 17.0,256 18.0,263 19.0,258 20.0,271 20.4,275" stroke="#c5bc38" stroke-width="2.1" vector-effect="non-scaling-stroke"/>
<polyline points="2.5,300 3.0,326 4.0,376 5.0,419 6.0,457 7.0,501 8.0,572 9.0,584 10.0,629 11.0,650 12.0,701 13.0,745 14.0,743 15.0,800 16.0,820 16.97,851" stroke="#c5bc38" stroke-width="2.1" vector-effect="non-scaling-stroke"/>
<polyline points="2.5,260 3.0,286 4.0,330 5.0,375 6.0,419 7.0,444 8.0,469 9.0,507 10.0,550 11.0,580 12.0,609 13.0,638 14.0,671 15.0,696 16.0,743 17.0,741 18.0,808 19.0,852 19.9,875" stroke="#c5bc38" stroke-width="2.1" vector-effect="non-scaling-stroke"/>
<polyline points="3,170 4.0,202 5.0,254 6.0,303 7.0,350 8.0,389 9.0,447 10.0,498 11.0,571 12.0,623 13.0,670 14.0,732 15.0,791 16.0,855 17.0,937 17.5,1000" stroke="#c5bc38" stroke-width="2.1" vector-effect="non-scaling-stroke"/>
<polyline points="2.5,230 3.0,261 4.0,317 5.0,409 6.0,467 7.0,553 8.0,635 9.0,709 10.0,800 11.0,921 12.0,1014 13.0,1117 14.0,1238 14.5,1300" stroke="#c5bc38" stroke-width="2.1" vector-effect="non-scaling-stroke"/>
</g>
<line x1="726.6" y1="847.5" x2="977.6" y2="847.5" stroke="#111" stroke-width="3" />
<line x1="727.6" y1="847.5" x2="727.6" y2="851.5" stroke="#111" stroke-width="2.4" />
<line x1="790.1" y1="847.5" x2="790.1" y2="851.5" stroke="#111" stroke-width="2.4" />
<line x1="852.6" y1="847.5" x2="852.6" y2="851.5" stroke="#111" stroke-width="2.4" />
<line x1="915.1" y1="847.5" x2="915.1" y2="851.5" stroke="#111" stroke-width="2.4" />
<line x1="977.6" y1="847.5" x2="977.6" y2="851.5" stroke="#111" stroke-width="2.4" />
<text x="728.2" y="868.8" font-size="17" fill="#707070" text-anchor="middle" textLength="10" lengthAdjust="spacingAndGlyphs">0</text>
<text x="978.4" y="868.8" font-size="17" fill="#707070" text-anchor="middle" textLength="20" lengthAdjust="spacingAndGlyphs">20</text>
<text x="1145.8" y="554.8" font-size="16.5" font-weight="bold" fill="#222" text-anchor="middle" textLength="112.4" lengthAdjust="spacingAndGlyphs">Tram + Doxo</text>
<text x="1047.6" y="601.5" font-size="24" fill="#222" textLength="145" lengthAdjust="spacingAndGlyphs">SD=977 mm<tspan font-size="14" dy="-9">3</tspan></text>
<g fill="none" stroke-linejoin="round" stroke-linecap="round" transform="translate(1021.4,847.5) scale(12.5,-0.095)">
<polyline points="2.0,465 3.2,495 3.35,530 3.94,658 4.94,853 5.42,967 6.16,1082 7.03,1224 7.64,1339 8.18,1419 8.65,1516 9.26,1596 9.9,1715" stroke="#111" stroke-width="2.2" vector-effect="non-scaling-stroke"/>
<polyline points="0.1,145 1.07,220 2.09,282 3.03,344 3.82,400 4.41,507 4.94,604 5.42,702 5.96,773 6.76,853 7.64,923 8.18,976 8.65,1056 9.05,1162 9.32,1250 9.66,1348 10.06,1481 10.33,1569 10.6,1658 10.89,1732 11.42,1942 12.28,2166 12.94,2370" stroke="#111" stroke-width="2.2" vector-effect="non-scaling-stroke"/>
<polyline points="0.1,140 1.5,200 3.0,300 4.19,427 5.1,475 5.7,523 6.31,602 6.91,682 7.64,762 8.06,873 8.51,1038 9.05,1056 9.99,1162 10.66,1304 11.2,1437 11.8,1619 12.3,1720 12.94,1855" stroke="#111" stroke-width="2.2" vector-effect="non-scaling-stroke"/>
<polyline points="3.2,495 4.39,503 6.07,523 7.03,547 7.52,618 8.43,690 9.15,770 9.45,841 10.0,921 10.4,1012 10.59,1035 11.35,1135 12.1,1254 13.01,1433 13.35,1564 14.21,1872 14.6,2124 14.96,2240" stroke="#111" stroke-width="2.2" vector-effect="non-scaling-stroke"/>
<polyline points="4.61,510 5.4,551 6.18,603 6.58,644 6.97,696 7.36,737 7.76,789 8.23,872 8.93,944" stroke="#111" stroke-width="2.2" vector-effect="non-scaling-stroke"/>
<polyline points="2.09,251 3.43,282 4.61,313 5.79,344 6.79,443 7.94,500 8.18,563 9.03,626 10.24,706 10.85,754 11.45,786 11.94,833 12.1,906 12.48,1025 13.24,1154 14.0,1274 14.52,1373 15.13,1453 15.51,1553 16.3,1640 16.7,1748 17.4,1860 18.2,2100 19.0,2420 19.88,2760" stroke="#111" stroke-width="2.2" vector-effect="non-scaling-stroke"/>
<polyline points="3.2,150 5.0,230 6.79,300 8.43,380 10.0,480 11.5,620 12.45,800 13.3,900 14.08,977 14.8,1060 15.4,1170 16.03,1304 16.34,1453 16.8,1620 17.15,1800 17.63,2068 18.28,2348 18.92,2620" stroke="#111" stroke-width="2.2" vector-effect="non-scaling-stroke"/>
<polyline points="3.2,170 4.8,220 6.31,280 7.64,340 8.43,364 9.33,403 10.24,443 10.85,475 11.35,530 12.1,617 13.09,717 13.99,836 14.75,926 15.28,995 15.89,1065 16.49,1135 17.02,1184 17.17,1254 17.32,1403 17.5,1460 17.95,1662 18.38,1872 18.92,2068" stroke="#111" stroke-width="2.2" vector-effect="non-scaling-stroke"/>
<polyline points="0.1,137 1.0,164 1.9,184 2.9,193 4.5,230 6.0,280 7.5,330 9.0,380 10.5,440 12.19,523 13.5,620 14.5,740 15.28,806 15.89,856 16.64,906 17.4,955 18.15,1005 18.91,1055 19.97,1095" stroke="#111" stroke-width="2.2" vector-effect="non-scaling-stroke"/>
<polyline points="3.2,133 4.19,157 4.8,204 6.31,260 7.22,284 8.12,300 9.5,340 10.97,372 12.19,427 13.46,500 14.37,547 15.89,607 17.02,657 18.15,717 18.53,756 19.29,836 19.97,876" stroke="#111" stroke-width="2.2" vector-effect="non-scaling-stroke"/>
<polyline points="2.5,200 3.0,232 4.0,300 5.0,381 6.0,452 7.0,515 8.0,627 9.0,715 10.0,840 11.0,939 12.0,1035 13.0,1173 14.0,1397 15.0,1513 16.0,1742 17.0,1963 18.0,2434 18.98,2908" stroke="#4fad7c" stroke-width="2.1" vector-effect="non-scaling-stroke"/>
<polyline points="2.5,180 3.0,207 4.0,270 5.0,336 6.0,405 7.0,469 8.0,562 9.0,649 10.0,748 11.0,859 12.0,982 13.0,1148 14.0,1276 15.0,1422 16.0,1628 17.0,1825 18.0,1989 19.0,2242 19.96,2651" stroke="#4fad7c" stroke-width="2.1" vector-effect="non-scaling-stroke"/>
<polyline points="2.5,220 3.0,239 4.0,290 5.0,357 6.0,418 7.0,499 8.0,593 9.0,692 10.0,808 11.0,914 12.0,1013 13.0,1143 14.0,1300 15.0,1441 16.0,1587 17.0,1755 18.0,1988 19.0,2303 19.96,2570" stroke="#4fad7c" stroke-width="2.1" vector-effect="non-scaling-stroke"/>
<polyline points="2.5,160 3.0,176 4.0,224 5.0,282 6.0,334 7.0,379 8.0,445 9.0,515 10.0,601 11.0,690 12.0,800 13.0,896 14.0,1002 15.0,1069 16.0,1183 17.0,1342 18.0,1489 18.8,1566" stroke="#4fad7c" stroke-width="2.1" vector-effect="non-scaling-stroke"/>
<polyline points="2.5,200 3.0,219 4.0,266 5.0,312 6.0,369 7.0,440 8.0,508 9.0,575 10.0,653 11.0,711 12.0,785 13.0,875 14.0,991 15.0,1092 16.0,1197 17.0,1250 18.0,1312 19.0,1390 19.96,1449" stroke="#4fad7c" stroke-width="2.1" vector-effect="non-scaling-stroke"/>
<polyline points="2.5,140 3.0,152 4.0,180 5.0,207 6.0,254 7.0,281 8.0,331 9.0,372 10.0,416 11.0,454 12.0,504 13.0,566 14.0,626 15.0,662 16.0,719 17.0,801 18.0,844 19.0,877 19.96,1029" stroke="#4fad7c" stroke-width="2.1" vector-effect="non-scaling-stroke"/>
<polyline points="2.5,130 3.0,136 4.0,157 5.0,173 6.0,198 7.0,221 8.0,251 9.0,273 10.0,306 11.0,324 12.0,347 13.0,375 14.0,421 15.0,451 16.0,474 17.0,493 18.0,534 19.0,570 19.96,597" stroke="#4fad7c" stroke-width="2.1" vector-effect="non-scaling-stroke"/>
<polyline points="2.5,120 3.0,128 4.0,144 5.0,168 6.0,194 7.0,210 8.0,233 9.0,265 10.0,299 11.0,337 12.0,367 13.0,368 14.0,352 15.0,309 16.0,271 17.0,295 18.0,304 19.0,334 19.96,352" stroke="#4fad7c" stroke-width="2.1" vector-effect="non-scaling-stroke"/>
<polyline points="2.5,250 3.0,271 4.0,327 5.0,405 6.0,463 7.0,560 8.0,640 9.0,719 10.0,821 11.0,946 12.0,1077 13.0,1227 14.0,1296 15.0,1442 16.0,1558 16.5,1650" stroke="#4fad7c" stroke-width="2.1" vector-effect="non-scaling-stroke"/>
<polyline points="2.5,150 3.0,164 4.0,180 5.0,205 6.0,235 7.0,268 8.0,308 9.0,345 10.0,384 11.0,425 12.0,463 13.0,490 14.0,532 15.0,584 16.0,612 17.0,625 18.0,666 19.0,677 19.9,700" stroke="#4fad7c" stroke-width="2.1" vector-effect="non-scaling-stroke"/>
<polyline points="3,170 4.0,199 5.0,235 6.0,275 7.0,322 8.0,372 9.0,427 10.0,502 11.0,549 12.0,634 13.0,676 14.0,755 15.0,832 16.0,896 17.0,947 18.0,992 19.0,1082 19.9,1150" stroke="#4fad7c" stroke-width="2.1" vector-effect="non-scaling-stroke"/>
</g>
<line x1="1020.4" y1="847.5" x2="1271.4" y2="847.5" stroke="#111" stroke-width="3" />
<line x1="1021.4" y1="847.5" x2="1021.4" y2="851.5" stroke="#111" stroke-width="2.4" />
<line x1="1083.9" y1="847.5" x2="1083.9" y2="851.5" stroke="#111" stroke-width="2.4" />
<line x1="1146.4" y1="847.5" x2="1146.4" y2="851.5" stroke="#111" stroke-width="2.4" />
<line x1="1208.9" y1="847.5" x2="1208.9" y2="851.5" stroke="#111" stroke-width="2.4" />
<line x1="1271.4" y1="847.5" x2="1271.4" y2="851.5" stroke="#111" stroke-width="2.4" />
<text x="1022" y="868.8" font-size="17" fill="#707070" text-anchor="middle" textLength="10" lengthAdjust="spacingAndGlyphs">0</text>
<text x="1274.6" y="868.8" font-size="17" fill="#707070" text-anchor="middle" textLength="21.5" lengthAdjust="spacingAndGlyphs" clip-path="url(#clipR)">20</text>
<text x="262.8" y="936.5" font-size="16.5" font-weight="bold" fill="#222" text-anchor="middle" textLength="103.8" lengthAdjust="spacingAndGlyphs">Cap + Doxo</text>
<text x="160.8" y="983.2" font-size="24" fill="#222" textLength="144.6" lengthAdjust="spacingAndGlyphs">SD=893 mm<tspan font-size="14" dy="-9">3</tspan></text>
<g fill="none" stroke-linejoin="round" stroke-linecap="round" transform="translate(138.4,1229.2) scale(12.5,-0.095)">
<polyline points="2.0,465 3.2,495 3.35,530 3.94,658 4.94,853 5.42,967 6.16,1082 7.03,1224 7.64,1339 8.18,1419 8.65,1516 9.26,1596 9.9,1715" stroke="#111" stroke-width="2.2" vector-effect="non-scaling-stroke"/>
<polyline points="0.1,145 1.07,220 2.09,282 3.03,344 3.82,400 4.41,507 4.94,604 5.42,702 5.96,773 6.76,853 7.64,923 8.18,976 8.65,1056 9.05,1162 9.32,1250 9.66,1348 10.06,1481 10.33,1569 10.6,1658 10.89,1732 11.42,1942 12.28,2166 12.94,2370" stroke="#111" stroke-width="2.2" vector-effect="non-scaling-stroke"/>
<polyline points="0.1,140 1.5,200 3.0,300 4.19,427 5.1,475 5.7,523 6.31,602 6.91,682 7.64,762 8.06,873 8.51,1038 9.05,1056 9.99,1162 10.66,1304 11.2,1437 11.8,1619 12.3,1720 12.94,1855" stroke="#111" stroke-width="2.2" vector-effect="non-scaling-stroke"/>
<polyline points="3.2,495 4.39,503 6.07,523 7.03,547 7.52,618 8.43,690 9.15,770 9.45,841 10.0,921 10.4,1012 10.59,1035 11.35,1135 12.1,1254 13.01,1433 13.35,1564 14.21,1872 14.6,2124 14.96,2240" stroke="#111" stroke-width="2.2" vector-effect="non-scaling-stroke"/>
<polyline points="4.61,510 5.4,551 6.18,603 6.58,644 6.97,696 7.36,737 7.76,789 8.23,872 8.93,944" stroke="#111" stroke-width="2.2" vector-effect="non-scaling-stroke"/>
<polyline points="2.09,251 3.43,282 4.61,313 5.79,344 6.79,443 7.94,500 8.18,563 9.03,626 10.24,706 10.85,754 11.45,786 11.94,833 12.1,906 12.48,1025 13.24,1154 14.0,1274 14.52,1373 15.13,1453 15.51,1553 16.3,1640 16.7,1748 17.4,1860 18.2,2100 19.0,2420 19.88,2760" stroke="#111" stroke-width="2.2" vector-effect="non-scaling-stroke"/>
<polyline points="3.2,150 5.0,230 6.79,300 8.43,380 10.0,480 11.5,620 12.45,800 13.3,900 14.08,977 14.8,1060 15.4,1170 16.03,1304 16.34,1453 16.8,1620 17.15,1800 17.63,2068 18.28,2348 18.92,2620" stroke="#111" stroke-width="2.2" vector-effect="non-scaling-stroke"/>
<polyline points="3.2,170 4.8,220 6.31,280 7.64,340 8.43,364 9.33,403 10.24,443 10.85,475 11.35,530 12.1,617 13.09,717 13.99,836 14.75,926 15.28,995 15.89,1065 16.49,1135 17.02,1184 17.17,1254 17.32,1403 17.5,1460 17.95,1662 18.38,1872 18.92,2068" stroke="#111" stroke-width="2.2" vector-effect="non-scaling-stroke"/>
<polyline points="0.1,137 1.0,164 1.9,184 2.9,193 4.5,230 6.0,280 7.5,330 9.0,380 10.5,440 12.19,523 13.5,620 14.5,740 15.28,806 15.89,856 16.64,906 17.4,955 18.15,1005 18.91,1055 19.97,1095" stroke="#111" stroke-width="2.2" vector-effect="non-scaling-stroke"/>
<polyline points="3.2,133 4.19,157 4.8,204 6.31,260 7.22,284 8.12,300 9.5,340 10.97,372 12.19,427 13.46,500 14.37,547 15.89,607 17.02,657 18.15,717 18.53,756 19.29,836 19.97,876" stroke="#111" stroke-width="2.2" vector-effect="non-scaling-stroke"/>
<polyline points="2.98,431 3.0,430 4.0,536 5.0,593 6.0,674 7.0,774 8.0,827 9.0,924 10.0,1033 11.0,1133 12.0,1208 13.0,1342 14.0,1510 15.0,1830 16.0,2035 17.0,2372 18.0,2696 18.85,2947" stroke="#f0922e" stroke-width="2.1" vector-effect="non-scaling-stroke"/>
<polyline points="3.05,415 4.0,515 5.0,650 6.0,773 7.0,852 8.0,894 9.0,975 10.0,1014 11.0,1106 12.0,1204 13.0,1603 14.0,1896 15.0,2091 16.0,2355 17.0,2492 17.86,2781" stroke="#f0922e" stroke-width="2.1" vector-effect="non-scaling-stroke"/>
<polyline points="3,290 4.0,326 5.0,377 6.0,440 7.0,489 8.0,528 9.0,583 10.0,653 11.0,735 12.0,844 13.0,900 14.0,1020 15.0,1127 16.0,1246 17.0,1339 18.0,1433 19.0,1493 19.9,1580" stroke="#f0922e" stroke-width="2.1" vector-effect="non-scaling-stroke"/>
<polyline points="3,200 4.0,216 5.0,235 6.0,261 7.0,274 8.0,301 9.0,338 10.0,359 11.0,390 12.0,427 13.0,481 14.0,526 15.0,601 16.0,672 17.0,786 18.0,900 19.0,1050 19.9,1195" stroke="#f0922e" stroke-width="2.1" vector-effect="non-scaling-stroke"/>
<polyline points="3,190 4.0,201 5.0,222 6.0,243 7.0,259 8.0,279 9.0,307 10.0,337 11.0,371 12.0,412 13.0,458 14.0,507 15.0,551 16.0,651 17.0,745 18.0,890 19.0,1013 19.9,1115" stroke="#f0922e" stroke-width="2.1" vector-effect="non-scaling-stroke"/>
<polyline points="3,170 4.0,186 5.0,195 6.0,211 7.0,227 8.0,245 9.0,276 10.0,295 11.0,316 12.0,339 13.0,369 14.0,382 15.0,403 16.0,452 17.0,512 18.0,608 19.0,675 19.9,783" stroke="#f0922e" stroke-width="2.1" vector-effect="non-scaling-stroke"/>
<polyline points="3,150 4.0,161 5.0,176 6.0,189 7.0,204 8.0,223 9.0,258 10.0,293 11.0,320 12.0,346 13.0,354 14.0,377 15.0,384 16.0,416 17.0,434 18.0,467 19.0,528 19.9,558" stroke="#f0922e" stroke-width="2.1" vector-effect="non-scaling-stroke"/>
<polyline points="3,140 4.0,154 5.0,160 6.0,177 7.0,191 8.0,205 9.0,226 10.0,244 11.0,261 12.0,273 13.0,289 14.0,302 15.0,303 16.0,309 17.0,322 18.0,350 18.5,370" stroke="#f0922e" stroke-width="2.1" vector-effect="non-scaling-stroke"/>
<polyline points="2.98,550 3.0,544 4.0,677 5.0,833 6.0,1016 7.0,1083 8.0,1129 9.0,1205 10.0,1289 11.0,1359 12.0,1418 13.26,1570" stroke="#f0922e" stroke-width="2.1" vector-effect="non-scaling-stroke"/>
<polyline points="2.9,570 3.0,560 4.0,584 5.0,622 6.0,659 7.0,704 8.0,755 9.0,835 10.0,863 11.0,930 12.0,980 13.0,1060 14.0,1171 15.0,1263 16.0,1311 17,1450" stroke="#f0922e" stroke-width="2.1" vector-effect="non-scaling-stroke"/>
<polyline points="3,180 4.0,188 5.0,204 6.0,211 7.0,221 8.0,245 9.0,253 10.0,273 11.0,282 12.0,306 13.0,311 14.0,319 15.0,329 16.0,351 17.0,396 17.77,431" stroke="#f0922e" stroke-width="2.1" vector-effect="non-scaling-stroke"/>
<polyline points="3,160 4.0,175 5.0,180 6.0,197 7.0,209 8.0,222 9.0,231 10.0,247 11.0,265 12.0,286 13.0,285 14.0,302 15.0,318 16.0,333 17.0,332 18.0,350 19.0,397 19.9,420" stroke="#f0922e" stroke-width="2.1" vector-effect="non-scaling-stroke"/>
<polyline points="3,230 4.0,257 5.0,274 6.0,293 7.0,332 8.0,349 9.0,388 10.0,410 11.0,445 12.0,462 13.0,505 14.0,521 15.0,557 16.0,614 17.0,661 18.0,689 19.0,764 19.9,850" stroke="#f0922e" stroke-width="2.1" vector-effect="non-scaling-stroke"/>
<polyline points="3,125 4.0,134 5.0,145 6.0,155 7.0,164 8.0,178 9.0,194 10.0,208 11.0,211 12.0,231 13.0,245 14.0,248 15.0,271 16.0,275 17.0,301 18,320" stroke="#f0922e" stroke-width="2.1" vector-effect="non-scaling-stroke"/>
</g>
<line x1="137.4" y1="1229.2" x2="388.4" y2="1229.2" stroke="#111" stroke-width="3" />
<line x1="138.4" y1="1229.2" x2="138.4" y2="1233.2" stroke="#111" stroke-width="2.4" />
<line x1="200.9" y1="1229.2" x2="200.9" y2="1233.2" stroke="#111" stroke-width="2.4" />
<line x1="263.4" y1="1229.2" x2="263.4" y2="1233.2" stroke="#111" stroke-width="2.4" />
<line x1="325.9" y1="1229.2" x2="325.9" y2="1233.2" stroke="#111" stroke-width="2.4" />
<line x1="388.4" y1="1229.2" x2="388.4" y2="1233.2" stroke="#111" stroke-width="2.4" />
<line x1="138.4" y1="953.7" x2="138.4" y2="1230.2" stroke="#111" stroke-width="2.6" />
<line x1="133.4" y1="1134.2" x2="138.4" y2="1134.2" stroke="#111" stroke-width="2" />
<line x1="133.4" y1="1039.2" x2="138.4" y2="1039.2" stroke="#111" stroke-width="2" />
<line x1="133.4" y1="1229.2" x2="138.4" y2="1229.2" stroke="#111" stroke-width="2" />
<text x="129.8" y="1235.5" font-size="17" fill="#707070" text-anchor="end" textLength="10" lengthAdjust="spacingAndGlyphs">0</text>
<text x="129.8" y="1140.5" font-size="17" fill="#707070" text-anchor="end" textLength="42" lengthAdjust="spacingAndGlyphs">1000</text>
<text x="129.8" y="1045.5" font-size="17" fill="#707070" text-anchor="end" textLength="42" lengthAdjust="spacingAndGlyphs">2000</text>
<text x="139" y="1250.5" font-size="17" fill="#707070" text-anchor="middle" textLength="10" lengthAdjust="spacingAndGlyphs">0</text>
<text x="389.2" y="1250.5" font-size="17" fill="#707070" text-anchor="middle" textLength="20" lengthAdjust="spacingAndGlyphs">20</text>
<text x="556.2" y="936.5" font-size="16.5" font-weight="bold" fill="#222" text-anchor="middle" textLength="101" lengthAdjust="spacingAndGlyphs">Cap + Tram</text>
<text x="428.1" y="983.2" font-size="24" fill="#222" textLength="145.8" lengthAdjust="spacingAndGlyphs">SD=637 mm<tspan font-size="14" dy="-9">3</tspan></text>
<g fill="none" stroke-linejoin="round" stroke-linecap="round" transform="translate(431.8,1229.2) scale(12.5,-0.095)">
<polyline points="2.0,465 3.2,495 3.35,530 3.94,658 4.94,853 5.42,967 6.16,1082 7.03,1224 7.64,1339 8.18,1419 8.65,1516 9.26,1596 9.9,1715" stroke="#111" stroke-width="2.2" vector-effect="non-scaling-stroke"/>
<polyline points="0.1,145 1.07,220 2.09,282 3.03,344 3.82,400 4.41,507 4.94,604 5.42,702 5.96,773 6.76,853 7.64,923 8.18,976 8.65,1056 9.05,1162 9.32,1250 9.66,1348 10.06,1481 10.33,1569 10.6,1658 10.89,1732 11.42,1942 12.28,2166 12.94,2370" stroke="#111" stroke-width="2.2" vector-effect="non-scaling-stroke"/>
<polyline points="0.1,140 1.5,200 3.0,300 4.19,427 5.1,475 5.7,523 6.31,602 6.91,682 7.64,762 8.06,873 8.51,1038 9.05,1056 9.99,1162 10.66,1304 11.2,1437 11.8,1619 12.3,1720 12.94,1855" stroke="#111" stroke-width="2.2" vector-effect="non-scaling-stroke"/>
<polyline points="3.2,495 4.39,503 6.07,523 7.03,547 7.52,618 8.43,690 9.15,770 9.45,841 10.0,921 10.4,1012 10.59,1035 11.35,1135 12.1,1254 13.01,1433 13.35,1564 14.21,1872 14.6,2124 14.96,2240" stroke="#111" stroke-width="2.2" vector-effect="non-scaling-stroke"/>
<polyline points="4.61,510 5.4,551 6.18,603 6.58,644 6.97,696 7.36,737 7.76,789 8.23,872 8.93,944" stroke="#111" stroke-width="2.2" vector-effect="non-scaling-stroke"/>
<polyline points="2.09,251 3.43,282 4.61,313 5.79,344 6.79,443 7.94,500 8.18,563 9.03,626 10.24,706 10.85,754 11.45,786 11.94,833 12.1,906 12.48,1025 13.24,1154 14.0,1274 14.52,1373 15.13,1453 15.51,1553 16.3,1640 16.7,1748 17.4,1860 18.2,2100 19.0,2420 19.88,2760" stroke="#111" stroke-width="2.2" vector-effect="non-scaling-stroke"/>
<polyline points="3.2,150 5.0,230 6.79,300 8.43,380 10.0,480 11.5,620 12.45,800 13.3,900 14.08,977 14.8,1060 15.4,1170 16.03,1304 16.34,1453 16.8,1620 17.15,1800 17.63,2068 18.28,2348 18.92,2620" stroke="#111" stroke-width="2.2" vector-effect="non-scaling-stroke"/>
<polyline points="3.2,170 4.8,220 6.31,280 7.64,340 8.43,364 9.33,403 10.24,443 10.85,475 11.35,530 12.1,617 13.09,717 13.99,836 14.75,926 15.28,995 15.89,1065 16.49,1135 17.02,1184 17.17,1254 17.32,1403 17.5,1460 17.95,1662 18.38,1872 18.92,2068" stroke="#111" stroke-width="2.2" vector-effect="non-scaling-stroke"/>
<polyline points="0.1,137 1.0,164 1.9,184 2.9,193 4.5,230 6.0,280 7.5,330 9.0,380 10.5,440 12.19,523 13.5,620 14.5,740 15.28,806 15.89,856 16.64,906 17.4,955 18.15,1005 18.91,1055 19.97,1095" stroke="#111" stroke-width="2.2" vector-effect="non-scaling-stroke"/>
<polyline points="3.2,133 4.19,157 4.8,204 6.31,260 7.22,284 8.12,300 9.5,340 10.97,372 12.19,427 13.46,500 14.37,547 15.89,607 17.02,657 18.15,717 18.53,756 19.29,836 19.97,876" stroke="#111" stroke-width="2.2" vector-effect="non-scaling-stroke"/>
<polyline points="3.0,541 4.0,676 5.0,841 6.0,1015 7.0,1087 8.0,1134 9.0,1175 10.0,1249 11.0,1348 12.0,1495 13.0,1589 14.0,1770 15.0,1893 16.0,1996 17.0,2195 18.0,2370 19.0,2484 19.8,2611" stroke="#7c2a91" stroke-width="2.1" vector-effect="non-scaling-stroke"/>
<polyline points="3,250 4.0,292 5.0,353 6.0,412 7.0,475 8.0,555 9.0,615 10.0,666 11.0,710 12.0,737 13.0,806 14.0,832 15.0,908 16.0,960 17.0,1001 18.0,1031 19.0,1112 19.9,1166" stroke="#7c2a91" stroke-width="2.1" vector-effect="non-scaling-stroke"/>
<polyline points="3,230 4.0,275 5.0,340 6.0,393 7.0,472 8.0,552 9.0,617 10.0,658 11.0,677 12.0,747 13.0,773 14.0,839 15.0,879 16.0,889 17.0,964 18.0,1015 19.0,1017 19.9,1082" stroke="#7c2a91" stroke-width="2.1" vector-effect="non-scaling-stroke"/>
<polyline points="3,210 4.0,254 5.0,316 6.0,374 7.0,446 8.0,498 9.0,589 10.0,607 11.0,659 12.0,710 13.0,716 14.0,751 15.0,795 16.0,824 17.0,847 18.0,888 18.5,920" stroke="#7c2a91" stroke-width="2.1" vector-effect="non-scaling-stroke"/>
<polyline points="3,200 4.0,232 5.0,285 6.0,333 7.0,373 8.0,399 9.0,456 10.0,475 11.0,521 12.0,564 13.0,584 14.0,630 15.0,652 16.0,702 17.0,766 18.0,794 19.0,895 19.9,935" stroke="#7c2a91" stroke-width="2.1" vector-effect="non-scaling-stroke"/>
<polyline points="3,180 4.0,205 5.0,229 6.0,264 7.0,278 8.0,312 9.0,331 10.0,355 11.0,393 12.0,419 13.0,444 14.0,490 15.0,508 16.0,595 17.0,651 18.0,738 19.0,822 19.9,872" stroke="#7c2a91" stroke-width="2.1" vector-effect="non-scaling-stroke"/>
<polyline points="3,150 4.0,164 5.0,179 6.0,191 7.0,205 8.0,216 9.0,230 10.0,248 11.0,259 12.0,273 13.0,292 14.0,294 15.0,350 16.0,423 17.0,498 18.0,605 19.0,697 19.9,786" stroke="#7c2a91" stroke-width="2.1" vector-effect="non-scaling-stroke"/>
<polyline points="3,140 4.0,150 5.0,166 6.0,180 7.0,201 8.0,212 9.0,220 10.0,238 11.0,250 12.0,258 13.0,282 14.0,286 15.0,335 16.0,392 17.0,485 18.0,591 19.0,661 19.9,723" stroke="#7c2a91" stroke-width="2.1" vector-effect="non-scaling-stroke"/>
<polyline points="0,150 1.0,162 2.0,174 3.0,185 4.0,196 5.0,199 6.0,202 7.0,209 8.0,212 9.0,222 10.0,228 11.0,230 12.0,247 13.0,245 14.0,262 15.0,284 16.0,307 17.0,332 18.0,391 19.0,427 19.9,492" stroke="#7c2a91" stroke-width="2.1" vector-effect="non-scaling-stroke"/>
<polyline points="3,112 4.0,124 5.0,139 6.0,147 7.0,162 8.0,183 9.0,200 10.0,211 11.0,222 12.0,225 13.0,237 14.0,248 15.0,265 16.0,300 17.0,325 18.0,362 18.9,397" stroke="#7c2a91" stroke-width="2.1" vector-effect="non-scaling-stroke"/>
<polyline points="0,140 1.0,148 2.0,168 3.0,182 4.0,190 5.0,204 6.0,213 7.0,223 8.0,235 9.0,248 10.0,258 11.0,274 12.0,294 13.0,311 14.0,333 15.0,352 16.0,366 17.0,405 18.0,439 19.0,488 19.9,520" stroke="#7c2a91" stroke-width="2.1" vector-effect="non-scaling-stroke"/>
<polyline points="3,170 4.0,185 5.0,199 6.0,221 7.0,244 8.0,256 9.0,281 10.0,286 11.0,307 12.0,326 13.0,362 14.0,396 15.0,425 16.0,454 17,500" stroke="#7c2a91" stroke-width="2.1" vector-effect="non-scaling-stroke"/>
<polyline points="2,130 3.0,141 4.0,147 5.0,156 6.0,172 7.0,181 8.0,191 9.0,200 10.0,214 11.0,219 12.0,234 13.0,246 14.0,263 15.0,273 16.0,293 17.0,307 18.0,319 19,340" stroke="#7c2a91" stroke-width="2.1" vector-effect="non-scaling-stroke"/>
<polyline points="3,190 4.0,206 5.0,232 6.0,249 7.0,286 8.0,293 9.0,310 10.0,331 11.0,368 12.0,382 13.0,404 14.0,430 15.0,476 16,540" stroke="#7c2a91" stroke-width="2.1" vector-effect="non-scaling-stroke"/>
</g>
<line x1="430.8" y1="1229.2" x2="681.8" y2="1229.2" stroke="#111" stroke-width="3" />
<line x1="431.8" y1="1229.2" x2="431.8" y2="1233.2" stroke="#111" stroke-width="2.4" />
<line x1="494.3" y1="1229.2" x2="494.3" y2="1233.2" stroke="#111" stroke-width="2.4" />
<line x1="556.8" y1="1229.2" x2="556.8" y2="1233.2" stroke="#111" stroke-width="2.4" />
<line x1="619.3" y1="1229.2" x2="619.3" y2="1233.2" stroke="#111" stroke-width="2.4" />
<line x1="681.8" y1="1229.2" x2="681.8" y2="1233.2" stroke="#111" stroke-width="2.4" />
<text x="432.4" y="1250.5" font-size="17" fill="#707070" text-anchor="middle" textLength="10" lengthAdjust="spacingAndGlyphs">0</text>
<text x="682.6" y="1250.5" font-size="17" fill="#707070" text-anchor="middle" textLength="20" lengthAdjust="spacingAndGlyphs">20</text>
<text x="852" y="936.5" font-size="16.5" font-weight="bold" fill="#222" text-anchor="middle" textLength="170" lengthAdjust="spacingAndGlyphs">Cap + Tram + Doxo</text>
<text x="753.5" y="983.2" font-size="24" fill="#222" textLength="137.8" lengthAdjust="spacingAndGlyphs">SD=343mm<tspan font-size="14" dy="-9">3</tspan></text>
<g fill="none" stroke-linejoin="round" stroke-linecap="round" transform="translate(727.6,1229.2) scale(12.5,-0.095)">
<polyline points="2.0,465 3.2,495 3.35,530 3.94,658 4.94,853 5.42,967 6.16,1082 7.03,1224 7.64,1339 8.18,1419 8.65,1516 9.26,1596 9.9,1715" stroke="#111" stroke-width="2.2" vector-effect="non-scaling-stroke"/>
<polyline points="0.1,145 1.07,220 2.09,282 3.03,344 3.82,400 4.41,507 4.94,604 5.42,702 5.96,773 6.76,853 7.64,923 8.18,976 8.65,1056 9.05,1162 9.32,1250 9.66,1348 10.06,1481 10.33,1569 10.6,1658 10.89,1732 11.42,1942 12.28,2166 12.94,2370" stroke="#111" stroke-width="2.2" vector-effect="non-scaling-stroke"/>
<polyline points="0.1,140 1.5,200 3.0,300 4.19,427 5.1,475 5.7,523 6.31,602 6.91,682 7.64,762 8.06,873 8.51,1038 9.05,1056 9.99,1162 10.66,1304 11.2,1437 11.8,1619 12.3,1720 12.94,1855" stroke="#111" stroke-width="2.2" vector-effect="non-scaling-stroke"/>
<polyline points="3.2,495 4.39,503 6.07,523 7.03,547 7.52,618 8.43,690 9.15,770 9.45,841 10.0,921 10.4,1012 10.59,1035 11.35,1135 12.1,1254 13.01,1433 13.35,1564 14.21,1872 14.6,2124 14.96,2240" stroke="#111" stroke-width="2.2" vector-effect="non-scaling-stroke"/>
<polyline points="4.61,510 5.4,551 6.18,603 6.58,644 6.97,696 7.36,737 7.76,789 8.23,872 8.93,944" stroke="#111" stroke-width="2.2" vector-effect="non-scaling-stroke"/>
<polyline points="2.09,251 3.43,282 4.61,313 5.79,344 6.79,443 7.94,500 8.18,563 9.03,626 10.24,706 10.85,754 11.45,786 11.94,833 12.1,906 12.48,1025 13.24,1154 14.0,1274 14.52,1373 15.13,1453 15.51,1553 16.3,1640 16.7,1748 17.4,1860 18.2,2100 19.0,2420 19.88,2760" stroke="#111" stroke-width="2.2" vector-effect="non-scaling-stroke"/>
<polyline points="3.2,150 5.0,230 6.79,300 8.43,380 10.0,480 11.5,620 12.45,800 13.3,900 14.08,977 14.8,1060 15.4,1170 16.03,1304 16.34,1453 16.8,1620 17.15,1800 17.63,2068 18.28,2348 18.92,2620" stroke="#111" stroke-width="2.2" vector-effect="non-scaling-stroke"/>
<polyline points="3.2,170 4.8,220 6.31,280 7.64,340 8.43,364 9.33,403 10.24,443 10.85,475 11.35,530 12.1,617 13.09,717 13.99,836 14.75,926 15.28,995 15.89,1065 16.49,1135 17.02,1184 17.17,1254 17.32,1403 17.5,1460 17.95,1662 18.38,1872 18.92,2068" stroke="#111" stroke-width="2.2" vector-effect="non-scaling-stroke"/>
<polyline points="0.1,137 1.0,164 1.9,184 2.9,193 4.5,230 6.0,280 7.5,330 9.0,380 10.5,440 12.19,523 13.5,620 14.5,740 15.28,806 15.89,856 16.64,906 17.4,955 18.15,1005 18.91,1055 19.97,1095" stroke="#111" stroke-width="2.2" vector-effect="non-scaling-stroke"/>
<polyline points="3.2,133 4.19,157 4.8,204 6.31,260 7.22,284 8.12,300 9.5,340 10.97,372 12.19,427 13.46,500 14.37,547 15.89,607 17.02,657 18.15,717 18.53,756 19.29,836 19.97,876" stroke="#111" stroke-width="2.2" vector-effect="non-scaling-stroke"/>
<polyline points="3,496 4.0,561 5.0,622 6.0,670 7.0,724 8.0,758 9.0,811 10.0,827 11.0,862 12.0,879 13.0,909 14.0,915 15.0,999 16.0,1064 17.0,1168 18.0,1194 19.0,1256 19.95,1330" stroke="#2a9cc2" stroke-width="2.1" vector-effect="non-scaling-stroke"/>
<polyline points="3,441 4.0,475 5.0,519 6.0,585 7.0,619 8.0,650 9.0,684 10.0,704 11.0,718 12.0,734 13.0,766 14.0,840 15.0,867 16.0,918 17.0,971 18.0,1003 19.0,1072 19.95,1143" stroke="#2a9cc2" stroke-width="2.1" vector-effect="non-scaling-stroke"/>
<polyline points="3,385 4.0,408 5.0,448 6.0,468 7.0,488 8.0,527 9.0,547 10.0,592 11.0,618 12.0,623 13.0,666 14.0,711 15.0,770 16.0,807 17.0,879 18.0,940 19.0,1006 19.95,1105" stroke="#2a9cc2" stroke-width="2.1" vector-effect="non-scaling-stroke"/>
<polyline points="3,296 4.0,326 5.0,339 6.0,378 7.0,391 8.0,415 9.0,441 10.0,475 11.0,502 12.0,495 13.0,537 14.0,586 15.0,649 16.0,695 17.0,780 18.0,860 18.88,950" stroke="#2a9cc2" stroke-width="2.1" vector-effect="non-scaling-stroke"/>
<polyline points="3,229 4.0,242 5.0,244 6.0,263 7.0,264 8.0,273 9.0,290 10.0,297 11.0,299 12.0,315 13.0,323 14.0,369 15.0,404 16.0,463 17.0,523 18.0,566 19.0,622 19.95,682" stroke="#2a9cc2" stroke-width="2.1" vector-effect="non-scaling-stroke"/>
<polyline points="3,184 4.0,188 5.0,198 6.0,196 7.0,209 8.0,206 9.0,214 10.0,221 11.0,234 12.0,236 13.0,242 14.0,257 15.0,257 16.0,269 17.0,278 18.0,289 19.0,298 19.95,302" stroke="#2a9cc2" stroke-width="2.1" vector-effect="non-scaling-stroke"/>
<polyline points="3,128 4.0,136 5.0,142 6.0,150 7.0,157 8.0,168 9.0,170 10.0,175 11.0,174 12.0,181 13.0,191 14.0,203 15.0,211 16.0,230 17.0,245 18.0,248 19.0,259 19.95,274" stroke="#2a9cc2" stroke-width="2.1" vector-effect="non-scaling-stroke"/>
<polyline points="2,363 3.0,386 4.0,423 5.0,458 6.0,476 7.0,512 8.0,553 9.0,583 10.0,619 11.0,639 12.0,667 13.0,685 14.0,737 15.0,754 16.0,757 17.0,818 18.0,814 18.67,851" stroke="#2a9cc2" stroke-width="2.1" vector-effect="non-scaling-stroke"/>
<polyline points="3,340 4.0,363 5.0,401 6.0,426 7.0,450 8.0,470 9.0,492 10.0,529 11.0,541 12.0,571 13.0,608 14.0,630 15.0,677 16.0,728 17.0,765 18.0,800 19.0,846 19.95,880" stroke="#2a9cc2" stroke-width="2.1" vector-effect="non-scaling-stroke"/>
<polyline points="3,260 4.0,275 5.0,288 6.0,313 7.0,328 8.0,350 9.0,371 10.0,380 11.0,401 12.0,430 13.0,450 14.0,473 15.0,523 16.0,568 17.0,608 18.0,657 19.0,717 19.95,760" stroke="#2a9cc2" stroke-width="2.1" vector-effect="non-scaling-stroke"/>
<polyline points="3,160 4.0,169 5.0,176 6.0,183 7.0,189 8.0,201 9.0,203 10.0,214 11.0,226 12.0,234 13.0,242 14.0,244 15.0,252 16.0,260 17.0,269 18.0,274 19.0,285 19.95,290" stroke="#2a9cc2" stroke-width="2.1" vector-effect="non-scaling-stroke"/>
<polyline points="3,450 4.0,488 5.0,500 6.0,544 7.0,573 8.0,589 9.0,620 10.0,658 11.0,650 12.0,691 13.0,713 14.0,772 15.0,818 16.0,851 17.0,885 18.0,964 19.0,1027 19.95,1090" stroke="#2a9cc2" stroke-width="2.1" vector-effect="non-scaling-stroke"/>
<polyline points="3,200 4.0,216 5.0,228 6.0,245 7.0,264 8.0,276 9.0,292 10.0,318 11.0,325 12.0,354 13.0,370 14.0,401 15.0,412 16.0,473 17.0,505 18.0,548 19.0,621 19.95,700" stroke="#2a9cc2" stroke-width="2.1" vector-effect="non-scaling-stroke"/>
</g>
<line x1="726.6" y1="1229.2" x2="977.6" y2="1229.2" stroke="#111" stroke-width="3" />
<line x1="727.6" y1="1229.2" x2="727.6" y2="1233.2" stroke="#111" stroke-width="2.4" />
<line x1="790.1" y1="1229.2" x2="790.1" y2="1233.2" stroke="#111" stroke-width="2.4" />
<line x1="852.6" y1="1229.2" x2="852.6" y2="1233.2" stroke="#111" stroke-width="2.4" />
<line x1="915.1" y1="1229.2" x2="915.1" y2="1233.2" stroke="#111" stroke-width="2.4" />
<line x1="977.6" y1="1229.2" x2="977.6" y2="1233.2" stroke="#111" stroke-width="2.4" />
<text x="728.2" y="1250.5" font-size="17" fill="#707070" text-anchor="middle" textLength="10" lengthAdjust="spacingAndGlyphs">0</text>
<text x="978.4" y="1250.5" font-size="17" fill="#707070" text-anchor="middle" textLength="20" lengthAdjust="spacingAndGlyphs">20</text>
<defs><clipPath id="clipR"><rect x="0" y="0" width="1282.6" height="1308"/></clipPath></defs>
<g transform="translate(69.3,896) rotate(-90)"><text x="0" y="0" font-size="18" font-weight="bold" fill="#111" text-anchor="middle" textLength="192" lengthAdjust="spacingAndGlyphs">Tumor Volume (mm<tspan font-size="11" dy="-8">3</tspan><tspan dy="8">)</tspan></text></g>
<text x="705.5" y="1273.2" font-size="18.2" fill="#222" text-anchor="middle" textLength="222" lengthAdjust="spacingAndGlyphs">Days from Treatment Start</text>
</svg></body></html>
